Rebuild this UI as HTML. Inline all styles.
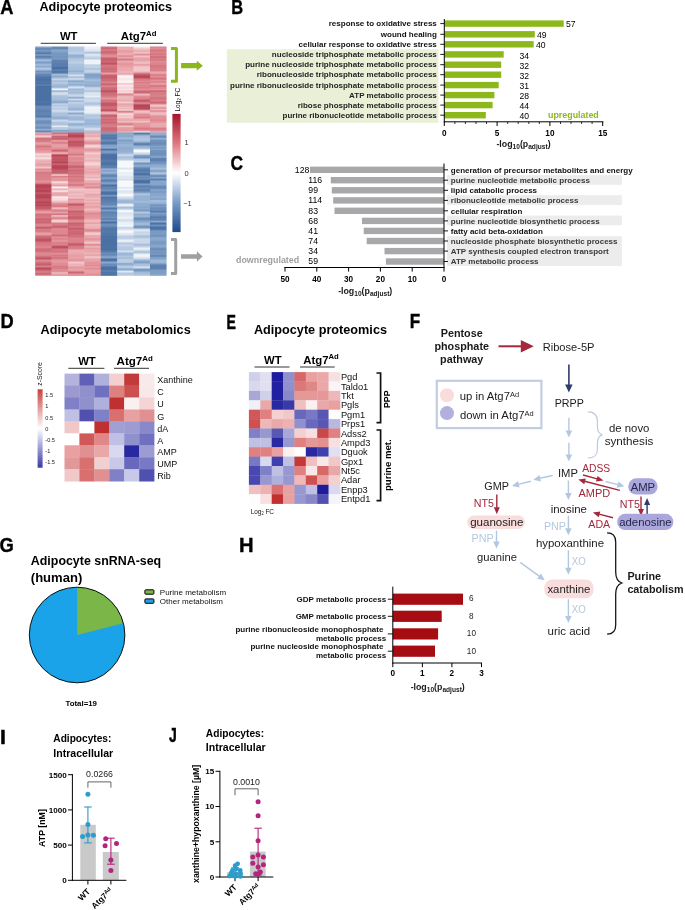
<!DOCTYPE html>
<html><head><meta charset="utf-8"><title>Figure</title>
<style>
html,body{margin:0;padding:0;background:#fff}
svg{display:block;font-family:'Liberation Sans', Arial, sans-serif}
.hm rect{width:16.5px;height:1.05px}
</style></head><body>
<svg width="685" height="910" viewBox="0 0 685 910">
<rect width="685" height="910" fill="#fff"/>
<g class="hm">
<g transform="translate(35.20 0)">
<rect y="46.60" fill="#5b83b5"/>
<rect y="47.60" fill="#648abb"/>
<rect y="48.60" fill="#1c4c8c"/>
<rect y="49.60" fill="#6087b9"/>
<rect y="50.60" fill="#4c76ab"/>
<rect y="51.60" fill="#4973a9"/>
<rect y="52.60" fill="#295794"/>
<rect y="53.60" fill="#2b5996"/>
<rect y="54.60" fill="#789cc8"/>
<rect y="55.60" fill="#2b5996"/>
<rect y="56.60" fill="#3b67a0"/>
<rect y="57.60" fill="#37649e"/>
<rect y="58.60" fill="#7196c4"/>
<rect y="59.60" fill="#81a3cc"/>
<rect y="60.60" fill="#8eacd1"/>
<rect y="61.60" fill="#567fb2"/>
<rect y="62.60" fill="#5e85b7"/>
<rect y="63.60" fill="#7c9fc9"/>
<rect y="64.60" fill="#8dabd1"/>
<rect y="65.60" fill="#779bc8"/>
<rect y="66.60" fill="#6188b9"/>
<rect y="67.60" fill="#a5bdda"/>
<rect y="68.60" fill="#9ab5d6"/>
<rect y="69.60" fill="#86a6ce"/>
<rect y="70.60" fill="#577fb2"/>
<rect y="71.60" fill="#446fa6"/>
<rect y="72.60" fill="#6f94c2"/>
<rect y="73.60" fill="#39659f"/>
<rect y="74.60" fill="#3b67a0"/>
<rect y="75.60" fill="#35629c"/>
<rect y="76.60" fill="#204f8f"/>
<rect y="77.60" fill="#255492"/>
<rect y="78.60" fill="#1c4c8c"/>
<rect y="79.60" fill="#1c4c8c"/>
<rect y="80.60" fill="#1e4e8d"/>
<rect y="81.60" fill="#2a5895"/>
<rect y="82.60" fill="#1e4e8d"/>
<rect y="83.60" fill="#1c4c8c"/>
<rect y="84.60" fill="#406ca4"/>
<rect y="85.60" fill="#1c4c8c"/>
<rect y="86.60" fill="#1c4c8c"/>
<rect y="87.60" fill="#1c4c8c"/>
<rect y="88.60" fill="#1c4c8c"/>
<rect y="89.60" fill="#1c4c8c"/>
<rect y="90.60" fill="#1c4c8c"/>
<rect y="91.60" fill="#1c4c8c"/>
<rect y="92.60" fill="#1c4c8c"/>
<rect y="93.60" fill="#1c4c8c"/>
<rect y="94.60" fill="#1c4c8c"/>
<rect y="95.60" fill="#1c4c8c"/>
<rect y="96.60" fill="#1c4c8c"/>
<rect y="97.60" fill="#1c4c8c"/>
<rect y="98.60" fill="#1c4c8c"/>
<rect y="99.60" fill="#1c4c8c"/>
<rect y="100.60" fill="#1c4c8c"/>
<rect y="101.60" fill="#275693"/>
<rect y="102.60" fill="#1c4c8c"/>
<rect y="103.60" fill="#1c4c8c"/>
<rect y="104.60" fill="#1c4c8c"/>
<rect y="105.60" fill="#3e6aa2"/>
<rect y="106.60" fill="#436ea6"/>
<rect y="107.60" fill="#4771a8"/>
<rect y="108.60" fill="#38649e"/>
<rect y="109.60" fill="#3e6aa2"/>
<rect y="110.60" fill="#2e5c98"/>
<rect y="111.60" fill="#35619c"/>
<rect y="112.60" fill="#3a66a0"/>
<rect y="113.60" fill="#3b67a0"/>
<rect y="114.60" fill="#3b67a0"/>
<rect y="115.60" fill="#2a5895"/>
<rect y="116.60" fill="#2f5c98"/>
<rect y="117.60" fill="#6188b9"/>
<rect y="118.60" fill="#6b91c0"/>
<rect y="119.60" fill="#648bbb"/>
<rect y="120.60" fill="#426da5"/>
<rect y="121.60" fill="#4d77ac"/>
<rect y="122.60" fill="#416ca4"/>
<rect y="123.60" fill="#5981b4"/>
<rect y="124.60" fill="#5e86b7"/>
<rect y="125.60" fill="#678dbd"/>
<rect y="126.60" fill="#436ea5"/>
<rect y="127.60" fill="#4f79ad"/>
<rect y="128.60" fill="#5880b3"/>
<rect y="129.60" fill="#8eacd1"/>
<rect y="130.60" fill="#2e5b98"/>
<rect y="131.60" fill="#446ea6"/>
<rect y="132.60" fill="#ebaeb2"/>
<rect y="133.60" fill="#d2646e"/>
<rect y="134.60" fill="#e49097"/>
<rect y="135.60" fill="#edb6ba"/>
<rect y="136.60" fill="#f1c4c7"/>
<rect y="137.60" fill="#c64f5c"/>
<rect y="138.60" fill="#c44a59"/>
<rect y="139.60" fill="#ca5562"/>
<rect y="140.60" fill="#cd5b67"/>
<rect y="141.60" fill="#cd5b67"/>
<rect y="142.60" fill="#e6979d"/>
<rect y="143.60" fill="#da727a"/>
<rect y="144.60" fill="#df7d84"/>
<rect y="145.60" fill="#c95461"/>
<rect y="146.60" fill="#c8525f"/>
<rect y="147.60" fill="#dc747d"/>
<rect y="148.60" fill="#d86d76"/>
<rect y="149.60" fill="#d66a74"/>
<rect y="150.60" fill="#e2878e"/>
<rect y="151.60" fill="#df7c84"/>
<rect y="152.60" fill="#e79fa4"/>
<rect y="153.60" fill="#f4d4d7"/>
<rect y="154.60" fill="#f0c0c4"/>
<rect y="155.60" fill="#efbec2"/>
<rect y="156.60" fill="#eaaaaf"/>
<rect y="157.60" fill="#fcf1f2"/>
<rect y="158.60" fill="#ecb1b6"/>
<rect y="159.60" fill="#edb6bb"/>
<rect y="160.60" fill="#e38d93"/>
<rect y="161.60" fill="#e79ba1"/>
<rect y="162.60" fill="#e9a5aa"/>
<rect y="163.60" fill="#dd767f"/>
<rect y="164.60" fill="#e5949b"/>
<rect y="165.60" fill="#e08188"/>
<rect y="166.60" fill="#eeb9bd"/>
<rect y="167.60" fill="#edb3b8"/>
<rect y="168.60" fill="#da717a"/>
<rect y="169.60" fill="#d46671"/>
<rect y="170.60" fill="#e6989e"/>
<rect y="171.60" fill="#c7505d"/>
<rect y="172.60" fill="#cd5a67"/>
<rect y="173.60" fill="#cf5d69"/>
<rect y="174.60" fill="#d0606b"/>
<rect y="175.60" fill="#d0606b"/>
<rect y="176.60" fill="#d0606c"/>
<rect y="177.60" fill="#d3646f"/>
<rect y="178.60" fill="#d2626d"/>
<rect y="179.60" fill="#cf5d69"/>
<rect y="180.60" fill="#e08088"/>
<rect y="181.60" fill="#d76c76"/>
<rect y="182.60" fill="#d66a74"/>
<rect y="183.60" fill="#ba3a4a"/>
<rect y="184.60" fill="#a6162b"/>
<rect y="185.60" fill="#a5142a"/>
<rect y="186.60" fill="#a5142a"/>
<rect y="187.60" fill="#a5142a"/>
<rect y="188.60" fill="#b1293c"/>
<rect y="189.60" fill="#a5142a"/>
<rect y="190.60" fill="#a5142a"/>
<rect y="191.60" fill="#a5142a"/>
<rect y="192.60" fill="#bc3d4d"/>
<rect y="193.60" fill="#ad2136"/>
<rect y="194.60" fill="#a5142a"/>
<rect y="195.60" fill="#a5142a"/>
<rect y="196.60" fill="#a5142a"/>
<rect y="197.60" fill="#a5142a"/>
<rect y="198.60" fill="#b53042"/>
<rect y="199.60" fill="#b0283b"/>
<rect y="200.60" fill="#b32c3f"/>
<rect y="201.60" fill="#a5142a"/>
<rect y="202.60" fill="#a5142a"/>
<rect y="203.60" fill="#b0283b"/>
<rect y="204.60" fill="#a5142a"/>
<rect y="205.60" fill="#a91b30"/>
<rect y="206.60" fill="#be4150"/>
<rect y="207.60" fill="#ab1e33"/>
<rect y="208.60" fill="#c24756"/>
<rect y="209.60" fill="#c8515f"/>
<rect y="210.60" fill="#db737c"/>
<rect y="211.60" fill="#e28990"/>
<rect y="212.60" fill="#e1838a"/>
<rect y="213.60" fill="#c8515e"/>
<rect y="214.60" fill="#c44b59"/>
<rect y="215.60" fill="#ca5562"/>
<rect y="216.60" fill="#ca5461"/>
<rect y="217.60" fill="#ce5c68"/>
<rect y="218.60" fill="#b73345"/>
<rect y="219.60" fill="#bf4252"/>
<rect y="220.60" fill="#c34857"/>
<rect y="221.60" fill="#bf4252"/>
<rect y="222.60" fill="#b83546"/>
<rect y="223.60" fill="#db737c"/>
<rect y="224.60" fill="#cc5865"/>
<rect y="225.60" fill="#dc747d"/>
<rect y="226.60" fill="#bb3b4c"/>
<rect y="227.60" fill="#b0273a"/>
<rect y="228.60" fill="#ce5c68"/>
<rect y="229.60" fill="#cd5a66"/>
<rect y="230.60" fill="#c95461"/>
<rect y="231.60" fill="#cf5d69"/>
<rect y="232.60" fill="#e28a91"/>
<rect y="233.60" fill="#df7d85"/>
<rect y="234.60" fill="#e1848b"/>
<rect y="235.60" fill="#c14554"/>
<rect y="236.60" fill="#bf4251"/>
<rect y="237.60" fill="#bf4252"/>
<rect y="238.60" fill="#b0263a"/>
<rect y="239.60" fill="#b0273a"/>
<rect y="240.60" fill="#ae2438"/>
<rect y="241.60" fill="#c54b5a"/>
<rect y="242.60" fill="#cc5864"/>
<rect y="243.60" fill="#c8515e"/>
<rect y="244.60" fill="#cf5f6a"/>
<rect y="245.60" fill="#cc5864"/>
<rect y="246.60" fill="#d96f78"/>
<rect y="247.60" fill="#d05f6a"/>
<rect y="248.60" fill="#c04453"/>
<rect y="249.60" fill="#c24856"/>
<rect y="250.60" fill="#c14655"/>
<rect y="251.60" fill="#c95360"/>
<rect y="252.60" fill="#d86e77"/>
<rect y="253.60" fill="#d56973"/>
<rect y="254.60" fill="#d36570"/>
<rect y="255.60" fill="#d1626d"/>
<rect y="256.60" fill="#ba3949"/>
<rect y="257.60" fill="#bc3c4d"/>
<rect y="258.60" fill="#a7172d"/>
<rect y="259.60" fill="#de7880"/>
<rect y="260.60" fill="#d1626d"/>
<rect y="261.60" fill="#cd5a66"/>
<rect y="262.60" fill="#c14554"/>
<rect y="263.60" fill="#bd3d4e"/>
<rect y="264.60" fill="#b53143"/>
<rect y="265.60" fill="#d0606c"/>
<rect y="266.60" fill="#d1606c"/>
<rect y="267.60" fill="#a8182e"/>
<rect y="268.60" fill="#b0273a"/>
<rect y="269.60" fill="#b63143"/>
<rect y="270.60" fill="#cb5764"/>
<rect y="271.60" fill="#cd5b67"/>
<rect y="272.60" fill="#c95461"/>
<rect y="273.60" fill="#b73446"/>
<rect y="274.60" fill="#d36670"/>
</g>
<g transform="translate(51.60 0)">
<rect y="46.60" fill="#436ea5"/>
<rect y="47.60" fill="#3d69a2"/>
<rect y="48.60" fill="#3c67a1"/>
<rect y="49.60" fill="#7196c3"/>
<rect y="50.60" fill="#668dbc"/>
<rect y="51.60" fill="#6087b8"/>
<rect y="52.60" fill="#5981b3"/>
<rect y="53.60" fill="#4e78ad"/>
<rect y="54.60" fill="#4f78ad"/>
<rect y="55.60" fill="#6087b8"/>
<rect y="56.60" fill="#426da5"/>
<rect y="57.60" fill="#577fb2"/>
<rect y="58.60" fill="#5b82b5"/>
<rect y="59.60" fill="#3f6aa3"/>
<rect y="60.60" fill="#2e5b97"/>
<rect y="61.60" fill="#38659e"/>
<rect y="62.60" fill="#305d99"/>
<rect y="63.60" fill="#2f5c98"/>
<rect y="64.60" fill="#2b5996"/>
<rect y="65.60" fill="#39659f"/>
<rect y="66.60" fill="#1c4c8c"/>
<rect y="67.60" fill="#1c4c8c"/>
<rect y="68.60" fill="#1c4c8c"/>
<rect y="69.60" fill="#3e69a2"/>
<rect y="70.60" fill="#295895"/>
<rect y="71.60" fill="#1c4c8c"/>
<rect y="72.60" fill="#315e99"/>
<rect y="73.60" fill="#6f94c2"/>
<rect y="74.60" fill="#a9c0dc"/>
<rect y="75.60" fill="#5a82b4"/>
<rect y="76.60" fill="#7da0ca"/>
<rect y="77.60" fill="#8fadd1"/>
<rect y="78.60" fill="#abc1dd"/>
<rect y="79.60" fill="#c4d4e7"/>
<rect y="80.60" fill="#7397c4"/>
<rect y="81.60" fill="#a9c0dc"/>
<rect y="82.60" fill="#a8bfdb"/>
<rect y="83.60" fill="#8fadd1"/>
<rect y="84.60" fill="#94b1d3"/>
<rect y="85.60" fill="#779cc8"/>
<rect y="86.60" fill="#88a8cf"/>
<rect y="87.60" fill="#9bb5d6"/>
<rect y="88.60" fill="#f3f7fa"/>
<rect y="89.60" fill="#e5ecf5"/>
<rect y="90.60" fill="#5d84b6"/>
<rect y="91.60" fill="#bdcee4"/>
<rect y="92.60" fill="#b3c8e0"/>
<rect y="93.60" fill="#dce5f1"/>
<rect y="94.60" fill="#a4bcda"/>
<rect y="95.60" fill="#9eb8d8"/>
<rect y="96.60" fill="#8fadd1"/>
<rect y="97.60" fill="#94b1d3"/>
<rect y="98.60" fill="#92afd3"/>
<rect y="99.60" fill="#89a8cf"/>
<rect y="100.60" fill="#7da0ca"/>
<rect y="101.60" fill="#6a90bf"/>
<rect y="102.60" fill="#6f94c2"/>
<rect y="103.60" fill="#c6d5e8"/>
<rect y="104.60" fill="#9ab5d6"/>
<rect y="105.60" fill="#a3bbd9"/>
<rect y="106.60" fill="#b4c8e0"/>
<rect y="107.60" fill="#b4c8e0"/>
<rect y="108.60" fill="#a0bad8"/>
<rect y="109.60" fill="#c0d1e5"/>
<rect y="110.60" fill="#bdcfe4"/>
<rect y="111.60" fill="#bbcde3"/>
<rect y="112.60" fill="#94b0d3"/>
<rect y="113.60" fill="#95b1d4"/>
<rect y="114.60" fill="#9ab5d6"/>
<rect y="115.60" fill="#8fadd1"/>
<rect y="116.60" fill="#7fa1cb"/>
<rect y="117.60" fill="#769bc7"/>
<rect y="118.60" fill="#7498c5"/>
<rect y="119.60" fill="#bdcee4"/>
<rect y="120.60" fill="#bbcde3"/>
<rect y="121.60" fill="#a5bdda"/>
<rect y="122.60" fill="#98b3d5"/>
<rect y="123.60" fill="#99b4d6"/>
<rect y="124.60" fill="#9cb6d7"/>
<rect y="125.60" fill="#d8e2ef"/>
<rect y="126.60" fill="#e6edf5"/>
<rect y="127.60" fill="#7397c5"/>
<rect y="128.60" fill="#d5e0ee"/>
<rect y="129.60" fill="#678dbd"/>
<rect y="130.60" fill="#688fbe"/>
<rect y="131.60" fill="#7fa1cb"/>
<rect y="132.60" fill="#c44b59"/>
<rect y="133.60" fill="#c8525f"/>
<rect y="134.60" fill="#e89fa5"/>
<rect y="135.60" fill="#be4050"/>
<rect y="136.60" fill="#b83647"/>
<rect y="137.60" fill="#c8515e"/>
<rect y="138.60" fill="#ab1e33"/>
<rect y="139.60" fill="#db727b"/>
<rect y="140.60" fill="#e1848b"/>
<rect y="141.60" fill="#da717a"/>
<rect y="142.60" fill="#c54c5a"/>
<rect y="143.60" fill="#e08189"/>
<rect y="144.60" fill="#e0828a"/>
<rect y="145.60" fill="#e1868d"/>
<rect y="146.60" fill="#e2888f"/>
<rect y="147.60" fill="#db727b"/>
<rect y="148.60" fill="#dc757d"/>
<rect y="149.60" fill="#bf4251"/>
<rect y="150.60" fill="#bd3e4e"/>
<rect y="151.60" fill="#d86e77"/>
<rect y="152.60" fill="#eaa7ac"/>
<rect y="153.60" fill="#dc757e"/>
<rect y="154.60" fill="#a5142a"/>
<rect y="155.60" fill="#a5142a"/>
<rect y="156.60" fill="#b42f41"/>
<rect y="157.60" fill="#b32d3f"/>
<rect y="158.60" fill="#b1283b"/>
<rect y="159.60" fill="#ae2437"/>
<rect y="160.60" fill="#b53042"/>
<rect y="161.60" fill="#a5142a"/>
<rect y="162.60" fill="#a6152b"/>
<rect y="163.60" fill="#c54d5b"/>
<rect y="164.60" fill="#af2539"/>
<rect y="165.60" fill="#a5142a"/>
<rect y="166.60" fill="#a5142a"/>
<rect y="167.60" fill="#a5142a"/>
<rect y="168.60" fill="#ab1e33"/>
<rect y="169.60" fill="#b0273a"/>
<rect y="170.60" fill="#c54c5a"/>
<rect y="171.60" fill="#a5142a"/>
<rect y="172.60" fill="#cc5864"/>
<rect y="173.60" fill="#c04352"/>
<rect y="174.60" fill="#fcf4f5"/>
<rect y="175.60" fill="#ce5c68"/>
<rect y="176.60" fill="#d05f6b"/>
<rect y="177.60" fill="#e2878e"/>
<rect y="178.60" fill="#dd767e"/>
<rect y="179.60" fill="#e1838b"/>
<rect y="180.60" fill="#df7d85"/>
<rect y="181.60" fill="#fcf4f5"/>
<rect y="182.60" fill="#eaa9ae"/>
<rect y="183.60" fill="#ecb2b6"/>
<rect y="184.60" fill="#e0828a"/>
<rect y="185.60" fill="#e2878e"/>
<rect y="186.60" fill="#fcf4f5"/>
<rect y="187.60" fill="#f7dee0"/>
<rect y="188.60" fill="#e8a2a7"/>
<rect y="189.60" fill="#e8a0a6"/>
<rect y="190.60" fill="#fcf4f5"/>
<rect y="191.60" fill="#ecb1b6"/>
<rect y="192.60" fill="#e49298"/>
<rect y="193.60" fill="#e38c92"/>
<rect y="194.60" fill="#e49198"/>
<rect y="195.60" fill="#e79ba1"/>
<rect y="196.60" fill="#fcf4f5"/>
<rect y="197.60" fill="#f5d5d8"/>
<rect y="198.60" fill="#f6dadc"/>
<rect y="199.60" fill="#f5d5d8"/>
<rect y="200.60" fill="#edb6bb"/>
<rect y="201.60" fill="#eaa8ad"/>
<rect y="202.60" fill="#e2888f"/>
<rect y="203.60" fill="#d3646f"/>
<rect y="204.60" fill="#d46772"/>
<rect y="205.60" fill="#ca5562"/>
<rect y="206.60" fill="#cf5e6a"/>
<rect y="207.60" fill="#f0c1c5"/>
<rect y="208.60" fill="#e5939a"/>
<rect y="209.60" fill="#d2636e"/>
<rect y="210.60" fill="#d3646f"/>
<rect y="211.60" fill="#da717a"/>
<rect y="212.60" fill="#e8a2a7"/>
<rect y="213.60" fill="#b83647"/>
<rect y="214.60" fill="#da717a"/>
<rect y="215.60" fill="#f4d1d3"/>
<rect y="216.60" fill="#d56872"/>
<rect y="217.60" fill="#dc747d"/>
<rect y="218.60" fill="#d2626d"/>
<rect y="219.60" fill="#efbdc1"/>
<rect y="220.60" fill="#f2c9cc"/>
<rect y="221.60" fill="#efbfc2"/>
<rect y="222.60" fill="#d05f6b"/>
<rect y="223.60" fill="#c8515e"/>
<rect y="224.60" fill="#d2646e"/>
<rect y="225.60" fill="#bc3d4d"/>
<rect y="226.60" fill="#bb3b4c"/>
<rect y="227.60" fill="#c54d5b"/>
<rect y="228.60" fill="#df7b82"/>
<rect y="229.60" fill="#d1626d"/>
<rect y="230.60" fill="#d76b75"/>
<rect y="231.60" fill="#d36670"/>
<rect y="232.60" fill="#d46772"/>
<rect y="233.60" fill="#d76d76"/>
<rect y="234.60" fill="#c34958"/>
<rect y="235.60" fill="#c04353"/>
<rect y="236.60" fill="#e08189"/>
<rect y="237.60" fill="#d36570"/>
<rect y="238.60" fill="#d56872"/>
<rect y="239.60" fill="#d86d76"/>
<rect y="240.60" fill="#e1858c"/>
<rect y="241.60" fill="#d46671"/>
<rect y="242.60" fill="#cc5965"/>
<rect y="243.60" fill="#d2636e"/>
<rect y="244.60" fill="#d1626d"/>
<rect y="245.60" fill="#b93849"/>
<rect y="246.60" fill="#a5142a"/>
<rect y="247.60" fill="#b53042"/>
<rect y="248.60" fill="#c54c5a"/>
<rect y="249.60" fill="#cb5764"/>
<rect y="250.60" fill="#c8515f"/>
<rect y="251.60" fill="#c95360"/>
<rect y="252.60" fill="#ce5b67"/>
<rect y="253.60" fill="#e28990"/>
<rect y="254.60" fill="#c04453"/>
<rect y="255.60" fill="#d3646f"/>
<rect y="256.60" fill="#cd5b67"/>
<rect y="257.60" fill="#be3f4f"/>
<rect y="258.60" fill="#d76b75"/>
<rect y="259.60" fill="#d96f78"/>
<rect y="260.60" fill="#e1838a"/>
<rect y="261.60" fill="#e07f87"/>
<rect y="262.60" fill="#d96f78"/>
<rect y="263.60" fill="#da717a"/>
<rect y="264.60" fill="#d76c75"/>
<rect y="265.60" fill="#d56973"/>
<rect y="266.60" fill="#c34857"/>
<rect y="267.60" fill="#da7079"/>
<rect y="268.60" fill="#c14655"/>
<rect y="269.60" fill="#e5949a"/>
<rect y="270.60" fill="#c34957"/>
<rect y="271.60" fill="#e79ea4"/>
<rect y="272.60" fill="#e69aa0"/>
<rect y="273.60" fill="#e8a0a5"/>
<rect y="274.60" fill="#d76c76"/>
</g>
<g transform="translate(68.00 0)">
<rect y="46.60" fill="#a1bad9"/>
<rect y="47.60" fill="#a9c0dc"/>
<rect y="48.60" fill="#93b0d3"/>
<rect y="49.60" fill="#aac0dc"/>
<rect y="50.60" fill="#a1bad9"/>
<rect y="51.60" fill="#a5bdda"/>
<rect y="52.60" fill="#b5c9e1"/>
<rect y="53.60" fill="#a5bdda"/>
<rect y="54.60" fill="#7c9fca"/>
<rect y="55.60" fill="#7297c4"/>
<rect y="56.60" fill="#7da0ca"/>
<rect y="57.60" fill="#87a7ce"/>
<rect y="58.60" fill="#9cb6d6"/>
<rect y="59.60" fill="#9cb6d7"/>
<rect y="60.60" fill="#a6bedb"/>
<rect y="61.60" fill="#a8bfdb"/>
<rect y="62.60" fill="#b0c5df"/>
<rect y="63.60" fill="#9cb6d7"/>
<rect y="64.60" fill="#93b0d3"/>
<rect y="65.60" fill="#9db7d7"/>
<rect y="66.60" fill="#8fadd1"/>
<rect y="67.60" fill="#91aed2"/>
<rect y="68.60" fill="#91aed2"/>
<rect y="69.60" fill="#8cabd0"/>
<rect y="70.60" fill="#7499c6"/>
<rect y="71.60" fill="#7ea1cb"/>
<rect y="72.60" fill="#97b3d5"/>
<rect y="73.60" fill="#8cabd0"/>
<rect y="74.60" fill="#c7d6e8"/>
<rect y="75.60" fill="#ccdaea"/>
<rect y="76.60" fill="#7b9fc9"/>
<rect y="77.60" fill="#b0c5df"/>
<rect y="78.60" fill="#c1d2e6"/>
<rect y="79.60" fill="#aac1dc"/>
<rect y="80.60" fill="#6389ba"/>
<rect y="81.60" fill="#7398c5"/>
<rect y="82.60" fill="#94b0d3"/>
<rect y="83.60" fill="#7b9ec9"/>
<rect y="84.60" fill="#7297c4"/>
<rect y="85.60" fill="#95b1d4"/>
<rect y="86.60" fill="#cbd9ea"/>
<rect y="87.60" fill="#cedbeb"/>
<rect y="88.60" fill="#82a3cc"/>
<rect y="89.60" fill="#87a7ce"/>
<rect y="90.60" fill="#9cb6d7"/>
<rect y="91.60" fill="#8baad0"/>
<rect y="92.60" fill="#8dabd0"/>
<rect y="93.60" fill="#9eb8d8"/>
<rect y="94.60" fill="#b8cbe2"/>
<rect y="95.60" fill="#bfd0e5"/>
<rect y="96.60" fill="#91aed2"/>
<rect y="97.60" fill="#5e85b7"/>
<rect y="98.60" fill="#c0d1e5"/>
<rect y="99.60" fill="#c5d4e7"/>
<rect y="100.60" fill="#6f94c2"/>
<rect y="101.60" fill="#abc1dd"/>
<rect y="102.60" fill="#b4c8e0"/>
<rect y="103.60" fill="#a3bbd9"/>
<rect y="104.60" fill="#9bb6d6"/>
<rect y="105.60" fill="#96b2d4"/>
<rect y="106.60" fill="#99b4d5"/>
<rect y="107.60" fill="#8aa9cf"/>
<rect y="108.60" fill="#7ea1cb"/>
<rect y="109.60" fill="#789cc8"/>
<rect y="110.60" fill="#c2d3e6"/>
<rect y="111.60" fill="#c0d1e5"/>
<rect y="112.60" fill="#7095c3"/>
<rect y="113.60" fill="#6a90bf"/>
<rect y="114.60" fill="#aac1dc"/>
<rect y="115.60" fill="#9cb7d7"/>
<rect y="116.60" fill="#88a8cf"/>
<rect y="117.60" fill="#7a9ec9"/>
<rect y="118.60" fill="#93b0d3"/>
<rect y="119.60" fill="#779bc7"/>
<rect y="120.60" fill="#bfd0e5"/>
<rect y="121.60" fill="#b5c9e1"/>
<rect y="122.60" fill="#a1bad9"/>
<rect y="123.60" fill="#7499c5"/>
<rect y="124.60" fill="#7498c5"/>
<rect y="125.60" fill="#9fb9d8"/>
<rect y="126.60" fill="#a4bcda"/>
<rect y="127.60" fill="#b3c7e0"/>
<rect y="128.60" fill="#83a4cd"/>
<rect y="129.60" fill="#87a7ce"/>
<rect y="130.60" fill="#698fbe"/>
<rect y="131.60" fill="#7fa1cb"/>
<rect y="132.60" fill="#b52f41"/>
<rect y="133.60" fill="#bb3b4c"/>
<rect y="134.60" fill="#a5142a"/>
<rect y="135.60" fill="#a5142a"/>
<rect y="136.60" fill="#a5142a"/>
<rect y="137.60" fill="#c34958"/>
<rect y="138.60" fill="#c14655"/>
<rect y="139.60" fill="#c64d5b"/>
<rect y="140.60" fill="#b83546"/>
<rect y="141.60" fill="#a91c30"/>
<rect y="142.60" fill="#b53042"/>
<rect y="143.60" fill="#b32d3f"/>
<rect y="144.60" fill="#b32d3f"/>
<rect y="145.60" fill="#b73445"/>
<rect y="146.60" fill="#c95360"/>
<rect y="147.60" fill="#d56872"/>
<rect y="148.60" fill="#d86d77"/>
<rect y="149.60" fill="#de7880"/>
<rect y="150.60" fill="#df7d85"/>
<rect y="151.60" fill="#d96f79"/>
<rect y="152.60" fill="#dd757e"/>
<rect y="153.60" fill="#cd5a66"/>
<rect y="154.60" fill="#c95260"/>
<rect y="155.60" fill="#e1838a"/>
<rect y="156.60" fill="#e1838a"/>
<rect y="157.60" fill="#d2636e"/>
<rect y="158.60" fill="#da727b"/>
<rect y="159.60" fill="#d66a74"/>
<rect y="160.60" fill="#de7880"/>
<rect y="161.60" fill="#d1616c"/>
<rect y="162.60" fill="#ce5c68"/>
<rect y="163.60" fill="#d56872"/>
<rect y="164.60" fill="#d0606c"/>
<rect y="165.60" fill="#bd3e4e"/>
<rect y="166.60" fill="#b93849"/>
<rect y="167.60" fill="#c34857"/>
<rect y="168.60" fill="#d2636e"/>
<rect y="169.60" fill="#be3f4f"/>
<rect y="170.60" fill="#c24655"/>
<rect y="171.60" fill="#c64e5c"/>
<rect y="172.60" fill="#c64f5d"/>
<rect y="173.60" fill="#c24756"/>
<rect y="174.60" fill="#d56872"/>
<rect y="175.60" fill="#cb5764"/>
<rect y="176.60" fill="#c04453"/>
<rect y="177.60" fill="#d66a74"/>
<rect y="178.60" fill="#ce5c68"/>
<rect y="179.60" fill="#c8515f"/>
<rect y="180.60" fill="#d36570"/>
<rect y="181.60" fill="#d2636e"/>
<rect y="182.60" fill="#dc747d"/>
<rect y="183.60" fill="#d76c76"/>
<rect y="184.60" fill="#c04453"/>
<rect y="185.60" fill="#d86e77"/>
<rect y="186.60" fill="#e49298"/>
<rect y="187.60" fill="#e2888f"/>
<rect y="188.60" fill="#f1c4c8"/>
<rect y="189.60" fill="#ecafb4"/>
<rect y="190.60" fill="#ecb0b4"/>
<rect y="191.60" fill="#e79ea4"/>
<rect y="192.60" fill="#e79ca2"/>
<rect y="193.60" fill="#edb4b9"/>
<rect y="194.60" fill="#ebacb1"/>
<rect y="195.60" fill="#e79ba1"/>
<rect y="196.60" fill="#e9a4aa"/>
<rect y="197.60" fill="#efbdc1"/>
<rect y="198.60" fill="#df7a82"/>
<rect y="199.60" fill="#db737b"/>
<rect y="200.60" fill="#e6989e"/>
<rect y="201.60" fill="#df7c84"/>
<rect y="202.60" fill="#df7c84"/>
<rect y="203.60" fill="#b63244"/>
<rect y="204.60" fill="#b22b3d"/>
<rect y="205.60" fill="#cc5965"/>
<rect y="206.60" fill="#d3656f"/>
<rect y="207.60" fill="#ce5c68"/>
<rect y="208.60" fill="#d66a74"/>
<rect y="209.60" fill="#d3656f"/>
<rect y="210.60" fill="#bd3f4f"/>
<rect y="211.60" fill="#b53042"/>
<rect y="212.60" fill="#c74f5d"/>
<rect y="213.60" fill="#bd3d4e"/>
<rect y="214.60" fill="#c54c5a"/>
<rect y="215.60" fill="#c44a59"/>
<rect y="216.60" fill="#b53143"/>
<rect y="217.60" fill="#bb3a4b"/>
<rect y="218.60" fill="#b83647"/>
<rect y="219.60" fill="#d76b75"/>
<rect y="220.60" fill="#d2636e"/>
<rect y="221.60" fill="#d56973"/>
<rect y="222.60" fill="#bf4151"/>
<rect y="223.60" fill="#b63143"/>
<rect y="224.60" fill="#c95360"/>
<rect y="225.60" fill="#b93748"/>
<rect y="226.60" fill="#d3656f"/>
<rect y="227.60" fill="#b83647"/>
<rect y="228.60" fill="#b63143"/>
<rect y="229.60" fill="#c34857"/>
<rect y="230.60" fill="#c24756"/>
<rect y="231.60" fill="#be4050"/>
<rect y="232.60" fill="#bf4251"/>
<rect y="233.60" fill="#ba394a"/>
<rect y="234.60" fill="#c64d5b"/>
<rect y="235.60" fill="#c64e5c"/>
<rect y="236.60" fill="#c64e5c"/>
<rect y="237.60" fill="#d1616c"/>
<rect y="238.60" fill="#d56973"/>
<rect y="239.60" fill="#cf5e69"/>
<rect y="240.60" fill="#d1626d"/>
<rect y="241.60" fill="#cf5d69"/>
<rect y="242.60" fill="#cc5865"/>
<rect y="243.60" fill="#b32c3f"/>
<rect y="244.60" fill="#b53042"/>
<rect y="245.60" fill="#c95360"/>
<rect y="246.60" fill="#cb5663"/>
<rect y="247.60" fill="#d0606b"/>
<rect y="248.60" fill="#d05f6b"/>
<rect y="249.60" fill="#e79da3"/>
<rect y="250.60" fill="#e49399"/>
<rect y="251.60" fill="#e79ea3"/>
<rect y="252.60" fill="#e38e95"/>
<rect y="253.60" fill="#e59399"/>
<rect y="254.60" fill="#e2888f"/>
<rect y="255.60" fill="#e1858c"/>
<rect y="256.60" fill="#e28990"/>
<rect y="257.60" fill="#e38c93"/>
<rect y="258.60" fill="#e08088"/>
<rect y="259.60" fill="#df7c84"/>
<rect y="260.60" fill="#dd767e"/>
<rect y="261.60" fill="#efbcc0"/>
<rect y="262.60" fill="#efbcc0"/>
<rect y="263.60" fill="#e79da3"/>
<rect y="264.60" fill="#e8a1a6"/>
<rect y="265.60" fill="#e9a4a9"/>
<rect y="266.60" fill="#dc757d"/>
<rect y="267.60" fill="#e08289"/>
<rect y="268.60" fill="#e2888f"/>
<rect y="269.60" fill="#e38b92"/>
<rect y="270.60" fill="#e1838a"/>
<rect y="271.60" fill="#c04352"/>
<rect y="272.60" fill="#bb3b4c"/>
<rect y="273.60" fill="#e1828a"/>
<rect y="274.60" fill="#d36570"/>
</g>
<g transform="translate(84.40 0)">
<rect y="46.60" fill="#e3eaf3"/>
<rect y="47.60" fill="#f1f5f9"/>
<rect y="48.60" fill="#dae4f0"/>
<rect y="49.60" fill="#d5e0ee"/>
<rect y="50.60" fill="#dbe5f0"/>
<rect y="51.60" fill="#9cb6d7"/>
<rect y="52.60" fill="#99b4d6"/>
<rect y="53.60" fill="#c5d4e7"/>
<rect y="54.60" fill="#dfe7f2"/>
<rect y="55.60" fill="#c4d4e7"/>
<rect y="56.60" fill="#b9cce2"/>
<rect y="57.60" fill="#aec3de"/>
<rect y="58.60" fill="#a3bcda"/>
<rect y="59.60" fill="#f0f4f9"/>
<rect y="60.60" fill="#ebf0f7"/>
<rect y="61.60" fill="#ecf1f7"/>
<rect y="62.60" fill="#eaf0f6"/>
<rect y="63.60" fill="#eff3f8"/>
<rect y="64.60" fill="#9cb7d7"/>
<rect y="65.60" fill="#b7cae2"/>
<rect y="66.60" fill="#b5c9e1"/>
<rect y="67.60" fill="#abc1dd"/>
<rect y="68.60" fill="#89a8cf"/>
<rect y="69.60" fill="#b5c8e1"/>
<rect y="70.60" fill="#b2c7e0"/>
<rect y="71.60" fill="#bacce3"/>
<rect y="72.60" fill="#92afd3"/>
<rect y="73.60" fill="#678dbd"/>
<rect y="74.60" fill="#5f86b8"/>
<rect y="75.60" fill="#6188b9"/>
<rect y="76.60" fill="#698fbe"/>
<rect y="77.60" fill="#668dbc"/>
<rect y="78.60" fill="#81a2cb"/>
<rect y="79.60" fill="#8cabd0"/>
<rect y="80.60" fill="#8dabd0"/>
<rect y="81.60" fill="#7d9fca"/>
<rect y="82.60" fill="#789cc8"/>
<rect y="83.60" fill="#82a3cc"/>
<rect y="84.60" fill="#759ac6"/>
<rect y="85.60" fill="#658bbc"/>
<rect y="86.60" fill="#aac1dc"/>
<rect y="87.60" fill="#a4bcda"/>
<rect y="88.60" fill="#c9d7e9"/>
<rect y="89.60" fill="#afc5df"/>
<rect y="90.60" fill="#8eacd1"/>
<rect y="91.60" fill="#b7cae2"/>
<rect y="92.60" fill="#d5e0ee"/>
<rect y="93.60" fill="#d0ddec"/>
<rect y="94.60" fill="#d0ddec"/>
<rect y="95.60" fill="#dde6f1"/>
<rect y="96.60" fill="#e6edf5"/>
<rect y="97.60" fill="#acc2dd"/>
<rect y="98.60" fill="#becfe4"/>
<rect y="99.60" fill="#c0d1e5"/>
<rect y="100.60" fill="#c0d1e6"/>
<rect y="101.60" fill="#bbcde3"/>
<rect y="102.60" fill="#96b2d4"/>
<rect y="103.60" fill="#a0b9d8"/>
<rect y="104.60" fill="#a4bcda"/>
<rect y="105.60" fill="#d0dcec"/>
<rect y="106.60" fill="#dfe8f2"/>
<rect y="107.60" fill="#f4f7fb"/>
<rect y="108.60" fill="#e2e9f3"/>
<rect y="109.60" fill="#e8eef6"/>
<rect y="110.60" fill="#e5ecf4"/>
<rect y="111.60" fill="#e5ecf5"/>
<rect y="112.60" fill="#dde6f1"/>
<rect y="113.60" fill="#c2d2e6"/>
<rect y="114.60" fill="#99b4d5"/>
<rect y="115.60" fill="#a2bbd9"/>
<rect y="116.60" fill="#9fb9d8"/>
<rect y="117.60" fill="#aac1dc"/>
<rect y="118.60" fill="#90add2"/>
<rect y="119.60" fill="#88a8cf"/>
<rect y="120.60" fill="#7ea0ca"/>
<rect y="121.60" fill="#8eacd1"/>
<rect y="122.60" fill="#81a3cc"/>
<rect y="123.60" fill="#7c9fc9"/>
<rect y="124.60" fill="#83a4cd"/>
<rect y="125.60" fill="#a4bdda"/>
<rect y="126.60" fill="#8caad0"/>
<rect y="127.60" fill="#c5d4e7"/>
<rect y="128.60" fill="#c6d5e8"/>
<rect y="129.60" fill="#c5d5e7"/>
<rect y="130.60" fill="#93b0d3"/>
<rect y="131.60" fill="#9eb8d8"/>
<rect y="132.60" fill="#e1828a"/>
<rect y="133.60" fill="#e9a6ab"/>
<rect y="134.60" fill="#e79da3"/>
<rect y="135.60" fill="#e59399"/>
<rect y="136.60" fill="#e5969c"/>
<rect y="137.60" fill="#f0c1c4"/>
<rect y="138.60" fill="#efbcc0"/>
<rect y="139.60" fill="#e79ca2"/>
<rect y="140.60" fill="#e6979d"/>
<rect y="141.60" fill="#dc747d"/>
<rect y="142.60" fill="#dd767f"/>
<rect y="143.60" fill="#dc747d"/>
<rect y="144.60" fill="#f0c1c5"/>
<rect y="145.60" fill="#f2cacd"/>
<rect y="146.60" fill="#f2cbce"/>
<rect y="147.60" fill="#e79ca2"/>
<rect y="148.60" fill="#e48f96"/>
<rect y="149.60" fill="#db737b"/>
<rect y="150.60" fill="#e38c92"/>
<rect y="151.60" fill="#e79ba1"/>
<rect y="152.60" fill="#f1c5c8"/>
<rect y="153.60" fill="#efbdc1"/>
<rect y="154.60" fill="#e8a1a6"/>
<rect y="155.60" fill="#eaa7ac"/>
<rect y="156.60" fill="#e8a2a8"/>
<rect y="157.60" fill="#e9a6ac"/>
<rect y="158.60" fill="#f0c2c6"/>
<rect y="159.60" fill="#e49198"/>
<rect y="160.60" fill="#eaa9ae"/>
<rect y="161.60" fill="#eaabb0"/>
<rect y="162.60" fill="#f4d0d3"/>
<rect y="163.60" fill="#f0c2c5"/>
<rect y="164.60" fill="#f3ced1"/>
<rect y="165.60" fill="#e9a4a9"/>
<rect y="166.60" fill="#e8a2a8"/>
<rect y="167.60" fill="#e8a0a5"/>
<rect y="168.60" fill="#e49197"/>
<rect y="169.60" fill="#e38c93"/>
<rect y="170.60" fill="#e8a2a8"/>
<rect y="171.60" fill="#e1838a"/>
<rect y="172.60" fill="#e49298"/>
<rect y="173.60" fill="#e6999f"/>
<rect y="174.60" fill="#e9a5aa"/>
<rect y="175.60" fill="#ecb1b5"/>
<rect y="176.60" fill="#e9a4aa"/>
<rect y="177.60" fill="#e38c92"/>
<rect y="178.60" fill="#f5d6d9"/>
<rect y="179.60" fill="#e9a7ac"/>
<rect y="180.60" fill="#e5969c"/>
<rect y="181.60" fill="#e69ba1"/>
<rect y="182.60" fill="#e28990"/>
<rect y="183.60" fill="#da727b"/>
<rect y="184.60" fill="#e07f87"/>
<rect y="185.60" fill="#e49399"/>
<rect y="186.60" fill="#d2646e"/>
<rect y="187.60" fill="#d76c76"/>
<rect y="188.60" fill="#ecb2b6"/>
<rect y="189.60" fill="#ebaeb2"/>
<rect y="190.60" fill="#eaaaaf"/>
<rect y="191.60" fill="#eaa8ad"/>
<rect y="192.60" fill="#eeb9bd"/>
<rect y="193.60" fill="#e48f96"/>
<rect y="194.60" fill="#e28990"/>
<rect y="195.60" fill="#e5959c"/>
<rect y="196.60" fill="#e79ba1"/>
<rect y="197.60" fill="#e6989e"/>
<rect y="198.60" fill="#efc0c3"/>
<rect y="199.60" fill="#de7a82"/>
<rect y="200.60" fill="#eaaaaf"/>
<rect y="201.60" fill="#e9a5ab"/>
<rect y="202.60" fill="#e2888f"/>
<rect y="203.60" fill="#e49197"/>
<rect y="204.60" fill="#e8a1a6"/>
<rect y="205.60" fill="#e49097"/>
<rect y="206.60" fill="#e08188"/>
<rect y="207.60" fill="#e6979d"/>
<rect y="208.60" fill="#e8a1a7"/>
<rect y="209.60" fill="#ecb1b6"/>
<rect y="210.60" fill="#e38d93"/>
<rect y="211.60" fill="#e38d94"/>
<rect y="212.60" fill="#d86e77"/>
<rect y="213.60" fill="#d46771"/>
<rect y="214.60" fill="#e08189"/>
<rect y="215.60" fill="#d97079"/>
<rect y="216.60" fill="#e07f87"/>
<rect y="217.60" fill="#de7a82"/>
<rect y="218.60" fill="#e38d94"/>
<rect y="219.60" fill="#e6999f"/>
<rect y="220.60" fill="#ebaeb3"/>
<rect y="221.60" fill="#e8a0a6"/>
<rect y="222.60" fill="#e08088"/>
<rect y="223.60" fill="#e5959c"/>
<rect y="224.60" fill="#ecb3b8"/>
<rect y="225.60" fill="#e89fa5"/>
<rect y="226.60" fill="#e79ba1"/>
<rect y="227.60" fill="#e9a4a9"/>
<rect y="228.60" fill="#e07e86"/>
<rect y="229.60" fill="#d36570"/>
<rect y="230.60" fill="#d96f79"/>
<rect y="231.60" fill="#e2888f"/>
<rect y="232.60" fill="#f2c9cc"/>
<rect y="233.60" fill="#edb6ba"/>
<rect y="234.60" fill="#eeb8bc"/>
<rect y="235.60" fill="#db727b"/>
<rect y="236.60" fill="#eaa9ae"/>
<rect y="237.60" fill="#de7a82"/>
<rect y="238.60" fill="#df7e85"/>
<rect y="239.60" fill="#de7a82"/>
<rect y="240.60" fill="#e79ca2"/>
<rect y="241.60" fill="#e79ca2"/>
<rect y="242.60" fill="#f3cfd2"/>
<rect y="243.60" fill="#df7c84"/>
<rect y="244.60" fill="#d2636e"/>
<rect y="245.60" fill="#e79da3"/>
<rect y="246.60" fill="#e79ca2"/>
<rect y="247.60" fill="#e5949b"/>
<rect y="248.60" fill="#dc747d"/>
<rect y="249.60" fill="#e8a3a8"/>
<rect y="250.60" fill="#e08087"/>
<rect y="251.60" fill="#e6979d"/>
<rect y="252.60" fill="#e8a0a6"/>
<rect y="253.60" fill="#e79ea3"/>
<rect y="254.60" fill="#e38c92"/>
<rect y="255.60" fill="#e38e95"/>
<rect y="256.60" fill="#f3cdd0"/>
<rect y="257.60" fill="#e79ea3"/>
<rect y="258.60" fill="#e5959b"/>
<rect y="259.60" fill="#e2878e"/>
<rect y="260.60" fill="#e38e95"/>
<rect y="261.60" fill="#df7c83"/>
<rect y="262.60" fill="#dd767e"/>
<rect y="263.60" fill="#de7880"/>
<rect y="264.60" fill="#de7880"/>
<rect y="265.60" fill="#d0606c"/>
<rect y="266.60" fill="#e79da3"/>
<rect y="267.60" fill="#d66973"/>
<rect y="268.60" fill="#da717a"/>
<rect y="269.60" fill="#e28990"/>
<rect y="270.60" fill="#e08189"/>
<rect y="271.60" fill="#e28990"/>
<rect y="272.60" fill="#e08087"/>
<rect y="273.60" fill="#df7a82"/>
<rect y="274.60" fill="#d66a74"/>
</g>
<g transform="translate(100.80 0)">
<rect y="46.60" fill="#c64f5d"/>
<rect y="47.60" fill="#c24655"/>
<rect y="48.60" fill="#bb3b4c"/>
<rect y="49.60" fill="#d76b75"/>
<rect y="50.60" fill="#bf4151"/>
<rect y="51.60" fill="#c24756"/>
<rect y="52.60" fill="#bf4151"/>
<rect y="53.60" fill="#cc5966"/>
<rect y="54.60" fill="#d66a74"/>
<rect y="55.60" fill="#db727b"/>
<rect y="56.60" fill="#da717a"/>
<rect y="57.60" fill="#b83547"/>
<rect y="58.60" fill="#bd3d4e"/>
<rect y="59.60" fill="#b42e40"/>
<rect y="60.60" fill="#bf4251"/>
<rect y="61.60" fill="#bf4151"/>
<rect y="62.60" fill="#b42e41"/>
<rect y="63.60" fill="#ab1e32"/>
<rect y="64.60" fill="#c7505d"/>
<rect y="65.60" fill="#ca5562"/>
<rect y="66.60" fill="#c54d5b"/>
<rect y="67.60" fill="#c74f5d"/>
<rect y="68.60" fill="#bd3e4e"/>
<rect y="69.60" fill="#c54c5a"/>
<rect y="70.60" fill="#c64f5c"/>
<rect y="71.60" fill="#c14454"/>
<rect y="72.60" fill="#e2878f"/>
<rect y="73.60" fill="#e1858d"/>
<rect y="74.60" fill="#bb3b4c"/>
<rect y="75.60" fill="#ba3849"/>
<rect y="76.60" fill="#b73445"/>
<rect y="77.60" fill="#b73445"/>
<rect y="78.60" fill="#c14454"/>
<rect y="79.60" fill="#c04453"/>
<rect y="80.60" fill="#c44a58"/>
<rect y="81.60" fill="#d2646e"/>
<rect y="82.60" fill="#d05f6a"/>
<rect y="83.60" fill="#b63244"/>
<rect y="84.60" fill="#c54c5a"/>
<rect y="85.60" fill="#d36570"/>
<rect y="86.60" fill="#d1626d"/>
<rect y="87.60" fill="#bb3b4c"/>
<rect y="88.60" fill="#c64f5c"/>
<rect y="89.60" fill="#b93748"/>
<rect y="90.60" fill="#af263a"/>
<rect y="91.60" fill="#b0273a"/>
<rect y="92.60" fill="#c7505e"/>
<rect y="93.60" fill="#c04353"/>
<rect y="94.60" fill="#c54d5b"/>
<rect y="95.60" fill="#c8515f"/>
<rect y="96.60" fill="#d2646f"/>
<rect y="97.60" fill="#da727b"/>
<rect y="98.60" fill="#e1838a"/>
<rect y="99.60" fill="#c34957"/>
<rect y="100.60" fill="#c95461"/>
<rect y="101.60" fill="#ca5562"/>
<rect y="102.60" fill="#b22b3e"/>
<rect y="103.60" fill="#b32d40"/>
<rect y="104.60" fill="#b32c3f"/>
<rect y="105.60" fill="#b83547"/>
<rect y="106.60" fill="#c8525f"/>
<rect y="107.60" fill="#c14554"/>
<rect y="108.60" fill="#c14554"/>
<rect y="109.60" fill="#ad2136"/>
<rect y="110.60" fill="#b32c3f"/>
<rect y="111.60" fill="#e79ba1"/>
<rect y="112.60" fill="#e69aa0"/>
<rect y="113.60" fill="#e69aa0"/>
<rect y="114.60" fill="#b93748"/>
<rect y="115.60" fill="#b83546"/>
<rect y="116.60" fill="#c44b59"/>
<rect y="117.60" fill="#c64e5c"/>
<rect y="118.60" fill="#ce5c68"/>
<rect y="119.60" fill="#b0273a"/>
<rect y="120.60" fill="#d76c76"/>
<rect y="121.60" fill="#b42e41"/>
<rect y="122.60" fill="#c44a59"/>
<rect y="123.60" fill="#c74f5d"/>
<rect y="124.60" fill="#cb5663"/>
<rect y="125.60" fill="#d05f6a"/>
<rect y="126.60" fill="#cd5966"/>
<rect y="127.60" fill="#bc3c4c"/>
<rect y="128.60" fill="#bf4252"/>
<rect y="129.60" fill="#c14554"/>
<rect y="130.60" fill="#c14454"/>
<rect y="131.60" fill="#cd5b67"/>
<rect y="132.60" fill="#537bb0"/>
<rect y="133.60" fill="#547db1"/>
<rect y="134.60" fill="#275693"/>
<rect y="135.60" fill="#2c5a97"/>
<rect y="136.60" fill="#33609b"/>
<rect y="137.60" fill="#1c4c8c"/>
<rect y="138.60" fill="#305d99"/>
<rect y="139.60" fill="#426da5"/>
<rect y="140.60" fill="#4872a9"/>
<rect y="141.60" fill="#295794"/>
<rect y="142.60" fill="#265593"/>
<rect y="143.60" fill="#275593"/>
<rect y="144.60" fill="#6289ba"/>
<rect y="145.60" fill="#668dbd"/>
<rect y="146.60" fill="#5f86b8"/>
<rect y="147.60" fill="#81a2cc"/>
<rect y="148.60" fill="#1c4c8c"/>
<rect y="149.60" fill="#245391"/>
<rect y="150.60" fill="#567eb2"/>
<rect y="151.60" fill="#577fb3"/>
<rect y="152.60" fill="#577fb2"/>
<rect y="153.60" fill="#285694"/>
<rect y="154.60" fill="#1c4c8c"/>
<rect y="155.60" fill="#1c4c8c"/>
<rect y="156.60" fill="#1c4c8c"/>
<rect y="157.60" fill="#1c4c8c"/>
<rect y="158.60" fill="#1c4c8c"/>
<rect y="159.60" fill="#275693"/>
<rect y="160.60" fill="#2d5b97"/>
<rect y="161.60" fill="#245391"/>
<rect y="162.60" fill="#1c4c8c"/>
<rect y="163.60" fill="#225190"/>
<rect y="164.60" fill="#225190"/>
<rect y="165.60" fill="#2e5c98"/>
<rect y="166.60" fill="#36629d"/>
<rect y="167.60" fill="#34609b"/>
<rect y="168.60" fill="#8baad0"/>
<rect y="169.60" fill="#6e94c2"/>
<rect y="170.60" fill="#5c83b6"/>
<rect y="171.60" fill="#799dc8"/>
<rect y="172.60" fill="#89a8cf"/>
<rect y="173.60" fill="#4c76ab"/>
<rect y="174.60" fill="#537cb0"/>
<rect y="175.60" fill="#1c4c8c"/>
<rect y="176.60" fill="#5880b3"/>
<rect y="177.60" fill="#5a82b5"/>
<rect y="178.60" fill="#547db1"/>
<rect y="179.60" fill="#3a669f"/>
<rect y="180.60" fill="#285694"/>
<rect y="181.60" fill="#567fb2"/>
<rect y="182.60" fill="#5a82b4"/>
<rect y="183.60" fill="#658bbb"/>
<rect y="184.60" fill="#1c4c8c"/>
<rect y="185.60" fill="#1e4e8d"/>
<rect y="186.60" fill="#3c68a1"/>
<rect y="187.60" fill="#39659f"/>
<rect y="188.60" fill="#3a669f"/>
<rect y="189.60" fill="#507aae"/>
<rect y="190.60" fill="#4671a8"/>
<rect y="191.60" fill="#1f4e8e"/>
<rect y="192.60" fill="#1c4c8c"/>
<rect y="193.60" fill="#1c4c8c"/>
<rect y="194.60" fill="#39659f"/>
<rect y="195.60" fill="#6d92c1"/>
<rect y="196.60" fill="#1c4c8c"/>
<rect y="197.60" fill="#245391"/>
<rect y="198.60" fill="#2c5a96"/>
<rect y="199.60" fill="#2c5a96"/>
<rect y="200.60" fill="#325f9a"/>
<rect y="201.60" fill="#305d99"/>
<rect y="202.60" fill="#3b67a0"/>
<rect y="203.60" fill="#3b67a0"/>
<rect y="204.60" fill="#3e6aa2"/>
<rect y="205.60" fill="#5e85b7"/>
<rect y="206.60" fill="#658cbc"/>
<rect y="207.60" fill="#255492"/>
<rect y="208.60" fill="#275693"/>
<rect y="209.60" fill="#5d84b6"/>
<rect y="210.60" fill="#5e85b7"/>
<rect y="211.60" fill="#325f9a"/>
<rect y="212.60" fill="#38649e"/>
<rect y="213.60" fill="#38649e"/>
<rect y="214.60" fill="#416ca4"/>
<rect y="215.60" fill="#3c68a1"/>
<rect y="216.60" fill="#4872a9"/>
<rect y="217.60" fill="#517aae"/>
<rect y="218.60" fill="#1c4c8c"/>
<rect y="219.60" fill="#537cb0"/>
<rect y="220.60" fill="#5079ae"/>
<rect y="221.60" fill="#1c4c8c"/>
<rect y="222.60" fill="#1c4c8c"/>
<rect y="223.60" fill="#4671a8"/>
<rect y="224.60" fill="#4a74aa"/>
<rect y="225.60" fill="#4570a7"/>
<rect y="226.60" fill="#325f9a"/>
<rect y="227.60" fill="#2f5d99"/>
<rect y="228.60" fill="#1c4c8c"/>
<rect y="229.60" fill="#265593"/>
<rect y="230.60" fill="#285694"/>
<rect y="231.60" fill="#245391"/>
<rect y="232.60" fill="#295895"/>
<rect y="233.60" fill="#1c4c8c"/>
<rect y="234.60" fill="#2a5895"/>
<rect y="235.60" fill="#1c4c8c"/>
<rect y="236.60" fill="#1c4c8c"/>
<rect y="237.60" fill="#1c4c8c"/>
<rect y="238.60" fill="#1c4c8c"/>
<rect y="239.60" fill="#1c4c8c"/>
<rect y="240.60" fill="#1c4c8c"/>
<rect y="241.60" fill="#1c4c8c"/>
<rect y="242.60" fill="#1c4c8c"/>
<rect y="243.60" fill="#1c4c8c"/>
<rect y="244.60" fill="#1c4c8c"/>
<rect y="245.60" fill="#1c4c8c"/>
<rect y="246.60" fill="#20508f"/>
<rect y="247.60" fill="#1c4c8c"/>
<rect y="248.60" fill="#1c4c8c"/>
<rect y="249.60" fill="#1c4c8c"/>
<rect y="250.60" fill="#2b5996"/>
<rect y="251.60" fill="#285794"/>
<rect y="252.60" fill="#4973a9"/>
<rect y="253.60" fill="#436ea5"/>
<rect y="254.60" fill="#36629d"/>
<rect y="255.60" fill="#5d85b7"/>
<rect y="256.60" fill="#638abb"/>
<rect y="257.60" fill="#648bbb"/>
<rect y="258.60" fill="#1c4c8c"/>
<rect y="259.60" fill="#1c4c8c"/>
<rect y="260.60" fill="#245391"/>
<rect y="261.60" fill="#6b91c0"/>
<rect y="262.60" fill="#6a90bf"/>
<rect y="263.60" fill="#456fa7"/>
<rect y="264.60" fill="#446fa6"/>
<rect y="265.60" fill="#436ea5"/>
<rect y="266.60" fill="#1c4c8c"/>
<rect y="267.60" fill="#1c4c8c"/>
<rect y="268.60" fill="#1c4c8c"/>
<rect y="269.60" fill="#1c4c8c"/>
<rect y="270.60" fill="#3e6aa2"/>
<rect y="271.60" fill="#1f4f8e"/>
<rect y="272.60" fill="#255492"/>
<rect y="273.60" fill="#265492"/>
<rect y="274.60" fill="#1c4c8c"/>
</g>
<g transform="translate(117.20 0)">
<rect y="46.60" fill="#e9a7ac"/>
<rect y="47.60" fill="#e28990"/>
<rect y="48.60" fill="#eaaaaf"/>
<rect y="49.60" fill="#e1838a"/>
<rect y="50.60" fill="#e2878e"/>
<rect y="51.60" fill="#e07e86"/>
<rect y="52.60" fill="#e5949a"/>
<rect y="53.60" fill="#e5969c"/>
<rect y="54.60" fill="#e69aa0"/>
<rect y="55.60" fill="#cd5a66"/>
<rect y="56.60" fill="#e38e95"/>
<rect y="57.60" fill="#e49197"/>
<rect y="58.60" fill="#cf5d69"/>
<rect y="59.60" fill="#c95461"/>
<rect y="60.60" fill="#e6999f"/>
<rect y="61.60" fill="#e38b92"/>
<rect y="62.60" fill="#e49096"/>
<rect y="63.60" fill="#d86d76"/>
<rect y="64.60" fill="#e28990"/>
<rect y="65.60" fill="#e2868e"/>
<rect y="66.60" fill="#e1838a"/>
<rect y="67.60" fill="#e79ea4"/>
<rect y="68.60" fill="#e28a91"/>
<rect y="69.60" fill="#e69aa0"/>
<rect y="70.60" fill="#e59399"/>
<rect y="71.60" fill="#eaaaaf"/>
<rect y="72.60" fill="#e5969d"/>
<rect y="73.60" fill="#e38b92"/>
<rect y="74.60" fill="#efbcc0"/>
<rect y="75.60" fill="#fcf4f5"/>
<rect y="76.60" fill="#fcf4f5"/>
<rect y="77.60" fill="#f8e1e3"/>
<rect y="78.60" fill="#f8e1e3"/>
<rect y="79.60" fill="#f7dddf"/>
<rect y="80.60" fill="#fcf4f5"/>
<rect y="81.60" fill="#fbeff0"/>
<rect y="82.60" fill="#f9e5e7"/>
<rect y="83.60" fill="#e8a1a6"/>
<rect y="84.60" fill="#faebec"/>
<rect y="85.60" fill="#f8e1e3"/>
<rect y="86.60" fill="#f3ced1"/>
<rect y="87.60" fill="#f3cfd2"/>
<rect y="88.60" fill="#f4d3d6"/>
<rect y="89.60" fill="#f9e6e7"/>
<rect y="90.60" fill="#eaa9ae"/>
<rect y="91.60" fill="#f8e1e3"/>
<rect y="92.60" fill="#efbdc1"/>
<rect y="93.60" fill="#d66a74"/>
<rect y="94.60" fill="#d66973"/>
<rect y="95.60" fill="#e79ea4"/>
<rect y="96.60" fill="#e9a6ab"/>
<rect y="97.60" fill="#e9a4aa"/>
<rect y="98.60" fill="#e9a3a9"/>
<rect y="99.60" fill="#e6979d"/>
<rect y="100.60" fill="#e6979d"/>
<rect y="101.60" fill="#eeb9bd"/>
<rect y="102.60" fill="#f0c2c6"/>
<rect y="103.60" fill="#de7a82"/>
<rect y="104.60" fill="#e79da3"/>
<rect y="105.60" fill="#e5959c"/>
<rect y="106.60" fill="#e8a2a7"/>
<rect y="107.60" fill="#eebabe"/>
<rect y="108.60" fill="#e28990"/>
<rect y="109.60" fill="#fbeeef"/>
<rect y="110.60" fill="#d2636e"/>
<rect y="111.60" fill="#d1616c"/>
<rect y="112.60" fill="#e8a1a7"/>
<rect y="113.60" fill="#f4d3d6"/>
<rect y="114.60" fill="#f3cfd1"/>
<rect y="115.60" fill="#e6989e"/>
<rect y="116.60" fill="#f5d5d7"/>
<rect y="117.60" fill="#eaa9af"/>
<rect y="118.60" fill="#e5969c"/>
<rect y="119.60" fill="#e69aa0"/>
<rect y="120.60" fill="#e49298"/>
<rect y="121.60" fill="#efbfc3"/>
<rect y="122.60" fill="#da717a"/>
<rect y="123.60" fill="#d2636e"/>
<rect y="124.60" fill="#d1616c"/>
<rect y="125.60" fill="#ecb1b6"/>
<rect y="126.60" fill="#ebaeb3"/>
<rect y="127.60" fill="#d86e77"/>
<rect y="128.60" fill="#e79ca2"/>
<rect y="129.60" fill="#d76c76"/>
<rect y="130.60" fill="#e48f96"/>
<rect y="131.60" fill="#e79ea4"/>
<rect y="132.60" fill="#678ebd"/>
<rect y="133.60" fill="#7095c3"/>
<rect y="134.60" fill="#6f94c2"/>
<rect y="135.60" fill="#6d92c1"/>
<rect y="136.60" fill="#6c92c0"/>
<rect y="137.60" fill="#87a7ce"/>
<rect y="138.60" fill="#87a7ce"/>
<rect y="139.60" fill="#5c84b6"/>
<rect y="140.60" fill="#5b83b5"/>
<rect y="141.60" fill="#779bc7"/>
<rect y="142.60" fill="#6c91c0"/>
<rect y="143.60" fill="#769ac6"/>
<rect y="144.60" fill="#7da0ca"/>
<rect y="145.60" fill="#7fa1cb"/>
<rect y="146.60" fill="#7498c5"/>
<rect y="147.60" fill="#7196c3"/>
<rect y="148.60" fill="#7095c3"/>
<rect y="149.60" fill="#759ac6"/>
<rect y="150.60" fill="#779bc7"/>
<rect y="151.60" fill="#799cc8"/>
<rect y="152.60" fill="#85a5cd"/>
<rect y="153.60" fill="#a3bcda"/>
<rect y="154.60" fill="#bccee4"/>
<rect y="155.60" fill="#bfd0e5"/>
<rect y="156.60" fill="#85a5cd"/>
<rect y="157.60" fill="#99b4d6"/>
<rect y="158.60" fill="#a6bedb"/>
<rect y="159.60" fill="#aac1dc"/>
<rect y="160.60" fill="#f4f7fb"/>
<rect y="161.60" fill="#f0f4f9"/>
<rect y="162.60" fill="#f4f7fb"/>
<rect y="163.60" fill="#f2f5fa"/>
<rect y="164.60" fill="#f4f7fb"/>
<rect y="165.60" fill="#f4f7fb"/>
<rect y="166.60" fill="#f4f7fb"/>
<rect y="167.60" fill="#d9e3ef"/>
<rect y="168.60" fill="#d0ddec"/>
<rect y="169.60" fill="#f4f7fb"/>
<rect y="170.60" fill="#f4f7fb"/>
<rect y="171.60" fill="#f4f7fb"/>
<rect y="172.60" fill="#d6e1ee"/>
<rect y="173.60" fill="#eff3f8"/>
<rect y="174.60" fill="#e2eaf3"/>
<rect y="175.60" fill="#e6ecf5"/>
<rect y="176.60" fill="#cbd9ea"/>
<rect y="177.60" fill="#dde6f1"/>
<rect y="178.60" fill="#cbd9ea"/>
<rect y="179.60" fill="#c5d5e7"/>
<rect y="180.60" fill="#f4f7fb"/>
<rect y="181.60" fill="#f4f7fb"/>
<rect y="182.60" fill="#f4f7fb"/>
<rect y="183.60" fill="#f4f7fb"/>
<rect y="184.60" fill="#f4f7fb"/>
<rect y="185.60" fill="#f4f7fb"/>
<rect y="186.60" fill="#edf2f8"/>
<rect y="187.60" fill="#cddaeb"/>
<rect y="188.60" fill="#f4f7fb"/>
<rect y="189.60" fill="#f4f7fb"/>
<rect y="190.60" fill="#c1d2e6"/>
<rect y="191.60" fill="#e5ecf4"/>
<rect y="192.60" fill="#cfdbeb"/>
<rect y="193.60" fill="#f4f7fb"/>
<rect y="194.60" fill="#f4f7fb"/>
<rect y="195.60" fill="#f4f7fb"/>
<rect y="196.60" fill="#cad8e9"/>
<rect y="197.60" fill="#c3d3e6"/>
<rect y="198.60" fill="#b0c5df"/>
<rect y="199.60" fill="#90aed2"/>
<rect y="200.60" fill="#86a6ce"/>
<rect y="201.60" fill="#7a9ec9"/>
<rect y="202.60" fill="#88a7ce"/>
<rect y="203.60" fill="#d0ddec"/>
<rect y="204.60" fill="#eef2f8"/>
<rect y="205.60" fill="#e2e9f3"/>
<rect y="206.60" fill="#8fadd1"/>
<rect y="207.60" fill="#95b1d4"/>
<rect y="208.60" fill="#a5bdda"/>
<rect y="209.60" fill="#e3eaf4"/>
<rect y="210.60" fill="#f4f7fb"/>
<rect y="211.60" fill="#f4f7fb"/>
<rect y="212.60" fill="#c0d1e5"/>
<rect y="213.60" fill="#dce6f1"/>
<rect y="214.60" fill="#d7e1ef"/>
<rect y="215.60" fill="#dae4f0"/>
<rect y="216.60" fill="#e5ecf4"/>
<rect y="217.60" fill="#eef2f8"/>
<rect y="218.60" fill="#dae4f0"/>
<rect y="219.60" fill="#c1d2e6"/>
<rect y="220.60" fill="#ccdaea"/>
<rect y="221.60" fill="#d6e1ee"/>
<rect y="222.60" fill="#f4f7fb"/>
<rect y="223.60" fill="#d5e0ee"/>
<rect y="224.60" fill="#f4f7fb"/>
<rect y="225.60" fill="#f4f7fb"/>
<rect y="226.60" fill="#bfd0e5"/>
<rect y="227.60" fill="#b8cbe2"/>
<rect y="228.60" fill="#c1d1e6"/>
<rect y="229.60" fill="#dce5f1"/>
<rect y="230.60" fill="#f4f7fb"/>
<rect y="231.60" fill="#f4f7fb"/>
<rect y="232.60" fill="#eaf0f7"/>
<rect y="233.60" fill="#c6d5e8"/>
<rect y="234.60" fill="#e0e8f2"/>
<rect y="235.60" fill="#a0b9d8"/>
<rect y="236.60" fill="#b2c6e0"/>
<rect y="237.60" fill="#adc3de"/>
<rect y="238.60" fill="#adc3de"/>
<rect y="239.60" fill="#e9eff6"/>
<rect y="240.60" fill="#e3eaf4"/>
<rect y="241.60" fill="#dce6f1"/>
<rect y="242.60" fill="#9db7d7"/>
<rect y="243.60" fill="#a3bcda"/>
<rect y="244.60" fill="#becfe4"/>
<rect y="245.60" fill="#afc4de"/>
<rect y="246.60" fill="#aac1dc"/>
<rect y="247.60" fill="#a2bbd9"/>
<rect y="248.60" fill="#a5bdda"/>
<rect y="249.60" fill="#9cb7d7"/>
<rect y="250.60" fill="#d7e2ef"/>
<rect y="251.60" fill="#becfe5"/>
<rect y="252.60" fill="#8aa9cf"/>
<rect y="253.60" fill="#82a4cc"/>
<rect y="254.60" fill="#85a6cd"/>
<rect y="255.60" fill="#99b4d5"/>
<rect y="256.60" fill="#a1bad9"/>
<rect y="257.60" fill="#88a8ce"/>
<rect y="258.60" fill="#92afd2"/>
<rect y="259.60" fill="#c1d2e6"/>
<rect y="260.60" fill="#8eacd1"/>
<rect y="261.60" fill="#cbd9ea"/>
<rect y="262.60" fill="#7397c5"/>
<rect y="263.60" fill="#7398c5"/>
<rect y="264.60" fill="#7196c3"/>
<rect y="265.60" fill="#aac1dc"/>
<rect y="266.60" fill="#a2bbd9"/>
<rect y="267.60" fill="#9db7d7"/>
<rect y="268.60" fill="#6c92c0"/>
<rect y="269.60" fill="#688ebe"/>
<rect y="270.60" fill="#d5e0ee"/>
<rect y="271.60" fill="#dce5f1"/>
<rect y="272.60" fill="#9db7d7"/>
<rect y="273.60" fill="#a2bbd9"/>
<rect y="274.60" fill="#abc1dd"/>
</g>
<g transform="translate(133.60 0)">
<rect y="46.60" fill="#fbedee"/>
<rect y="47.60" fill="#efbdc1"/>
<rect y="48.60" fill="#f0c3c7"/>
<rect y="49.60" fill="#e8a0a6"/>
<rect y="50.60" fill="#e5949a"/>
<rect y="51.60" fill="#e9a4a9"/>
<rect y="52.60" fill="#f0c0c4"/>
<rect y="53.60" fill="#de7981"/>
<rect y="54.60" fill="#d96e78"/>
<rect y="55.60" fill="#edb6bb"/>
<rect y="56.60" fill="#ebaeb3"/>
<rect y="57.60" fill="#e28990"/>
<rect y="58.60" fill="#e38e95"/>
<rect y="59.60" fill="#e1858c"/>
<rect y="60.60" fill="#e6999f"/>
<rect y="61.60" fill="#e79ba1"/>
<rect y="62.60" fill="#f0c3c7"/>
<rect y="63.60" fill="#e38d94"/>
<rect y="64.60" fill="#e08188"/>
<rect y="65.60" fill="#e89fa5"/>
<rect y="66.60" fill="#eeb9bd"/>
<rect y="67.60" fill="#edb6ba"/>
<rect y="68.60" fill="#eebbbf"/>
<rect y="69.60" fill="#efbcc0"/>
<rect y="70.60" fill="#eebabe"/>
<rect y="71.60" fill="#e6999f"/>
<rect y="72.60" fill="#db737b"/>
<rect y="73.60" fill="#bc3c4d"/>
<rect y="74.60" fill="#b53042"/>
<rect y="75.60" fill="#a91a2f"/>
<rect y="76.60" fill="#a5142a"/>
<rect y="77.60" fill="#ad2236"/>
<rect y="78.60" fill="#d05f6a"/>
<rect y="79.60" fill="#c7505e"/>
<rect y="80.60" fill="#d96f79"/>
<rect y="81.60" fill="#d76b75"/>
<rect y="82.60" fill="#c14655"/>
<rect y="83.60" fill="#e2878e"/>
<rect y="84.60" fill="#ca5562"/>
<rect y="85.60" fill="#d66a74"/>
<rect y="86.60" fill="#d2636e"/>
<rect y="87.60" fill="#c8525f"/>
<rect y="88.60" fill="#df7b83"/>
<rect y="89.60" fill="#d66b74"/>
<rect y="90.60" fill="#c14454"/>
<rect y="91.60" fill="#c04352"/>
<rect y="92.60" fill="#bd3e4e"/>
<rect y="93.60" fill="#e9a6ab"/>
<rect y="94.60" fill="#e9a5aa"/>
<rect y="95.60" fill="#dc747d"/>
<rect y="96.60" fill="#d66973"/>
<rect y="97.60" fill="#d3646f"/>
<rect y="98.60" fill="#d2636e"/>
<rect y="99.60" fill="#ba3849"/>
<rect y="100.60" fill="#b32c3f"/>
<rect y="101.60" fill="#c14554"/>
<rect y="102.60" fill="#da727b"/>
<rect y="103.60" fill="#c8515f"/>
<rect y="104.60" fill="#a5142a"/>
<rect y="105.60" fill="#a5142a"/>
<rect y="106.60" fill="#a5142a"/>
<rect y="107.60" fill="#ad2337"/>
<rect y="108.60" fill="#a5142a"/>
<rect y="109.60" fill="#d2636e"/>
<rect y="110.60" fill="#edb7bb"/>
<rect y="111.60" fill="#eaa7ac"/>
<rect y="112.60" fill="#ebaeb3"/>
<rect y="113.60" fill="#dc747c"/>
<rect y="114.60" fill="#d66a74"/>
<rect y="115.60" fill="#de7880"/>
<rect y="116.60" fill="#cc5865"/>
<rect y="117.60" fill="#ce5b67"/>
<rect y="118.60" fill="#e48f95"/>
<rect y="119.60" fill="#e38d93"/>
<rect y="120.60" fill="#e79da3"/>
<rect y="121.60" fill="#f0c0c4"/>
<rect y="122.60" fill="#df7a82"/>
<rect y="123.60" fill="#df7c84"/>
<rect y="124.60" fill="#e08087"/>
<rect y="125.60" fill="#dc747c"/>
<rect y="126.60" fill="#de7a82"/>
<rect y="127.60" fill="#cc5864"/>
<rect y="128.60" fill="#ca5562"/>
<rect y="129.60" fill="#dc757d"/>
<rect y="130.60" fill="#e07e86"/>
<rect y="131.60" fill="#fcf4f5"/>
<rect y="132.60" fill="#245391"/>
<rect y="133.60" fill="#2b5996"/>
<rect y="134.60" fill="#789cc8"/>
<rect y="135.60" fill="#7b9ec9"/>
<rect y="136.60" fill="#a5bdda"/>
<rect y="137.60" fill="#8aa9cf"/>
<rect y="138.60" fill="#a1bad9"/>
<rect y="139.60" fill="#a2bbd9"/>
<rect y="140.60" fill="#86a7ce"/>
<rect y="141.60" fill="#8cabd0"/>
<rect y="142.60" fill="#3e6aa2"/>
<rect y="143.60" fill="#36639d"/>
<rect y="144.60" fill="#33609b"/>
<rect y="145.60" fill="#799dc8"/>
<rect y="146.60" fill="#799dc8"/>
<rect y="147.60" fill="#8baad0"/>
<rect y="148.60" fill="#a5bdda"/>
<rect y="149.60" fill="#f4f7fb"/>
<rect y="150.60" fill="#f4f7fb"/>
<rect y="151.60" fill="#f4f7fb"/>
<rect y="152.60" fill="#b8cbe2"/>
<rect y="153.60" fill="#ccd9ea"/>
<rect y="154.60" fill="#7599c6"/>
<rect y="155.60" fill="#537cb0"/>
<rect y="156.60" fill="#4d77ac"/>
<rect y="157.60" fill="#4771a8"/>
<rect y="158.60" fill="#9eb8d7"/>
<rect y="159.60" fill="#99b4d5"/>
<rect y="160.60" fill="#adc3de"/>
<rect y="161.60" fill="#b0c5df"/>
<rect y="162.60" fill="#4d77ac"/>
<rect y="163.60" fill="#4f78ad"/>
<rect y="164.60" fill="#6f94c2"/>
<rect y="165.60" fill="#7398c5"/>
<rect y="166.60" fill="#5e85b7"/>
<rect y="167.60" fill="#3b67a0"/>
<rect y="168.60" fill="#35629c"/>
<rect y="169.60" fill="#2a5895"/>
<rect y="170.60" fill="#265593"/>
<rect y="171.60" fill="#3d69a2"/>
<rect y="172.60" fill="#285794"/>
<rect y="173.60" fill="#1c4c8c"/>
<rect y="174.60" fill="#1c4c8c"/>
<rect y="175.60" fill="#547db1"/>
<rect y="176.60" fill="#406ba3"/>
<rect y="177.60" fill="#39659f"/>
<rect y="178.60" fill="#5a82b4"/>
<rect y="179.60" fill="#265492"/>
<rect y="180.60" fill="#1c4c8c"/>
<rect y="181.60" fill="#1c4c8c"/>
<rect y="182.60" fill="#1c4c8c"/>
<rect y="183.60" fill="#5e85b7"/>
<rect y="184.60" fill="#5e85b7"/>
<rect y="185.60" fill="#295794"/>
<rect y="186.60" fill="#3e6aa2"/>
<rect y="187.60" fill="#426da5"/>
<rect y="188.60" fill="#446fa6"/>
<rect y="189.60" fill="#36629d"/>
<rect y="190.60" fill="#36639d"/>
<rect y="191.60" fill="#577fb3"/>
<rect y="192.60" fill="#6b91c0"/>
<rect y="193.60" fill="#9eb8d7"/>
<rect y="194.60" fill="#9bb5d6"/>
<rect y="195.60" fill="#7599c6"/>
<rect y="196.60" fill="#7da0ca"/>
<rect y="197.60" fill="#7c9fca"/>
<rect y="198.60" fill="#7a9dc9"/>
<rect y="199.60" fill="#7b9ec9"/>
<rect y="200.60" fill="#80a2cb"/>
<rect y="201.60" fill="#8fadd1"/>
<rect y="202.60" fill="#7ea0ca"/>
<rect y="203.60" fill="#6c92c0"/>
<rect y="204.60" fill="#7499c6"/>
<rect y="205.60" fill="#7599c6"/>
<rect y="206.60" fill="#6289ba"/>
<rect y="207.60" fill="#6f95c2"/>
<rect y="208.60" fill="#7195c3"/>
<rect y="209.60" fill="#5a82b5"/>
<rect y="210.60" fill="#5880b3"/>
<rect y="211.60" fill="#a0bad8"/>
<rect y="212.60" fill="#a1bad9"/>
<rect y="213.60" fill="#7297c4"/>
<rect y="214.60" fill="#769ac6"/>
<rect y="215.60" fill="#7ea0ca"/>
<rect y="216.60" fill="#799dc9"/>
<rect y="217.60" fill="#4b75aa"/>
<rect y="218.60" fill="#406ca4"/>
<rect y="219.60" fill="#537cb0"/>
<rect y="220.60" fill="#6b91c0"/>
<rect y="221.60" fill="#698fbe"/>
<rect y="222.60" fill="#8aaad0"/>
<rect y="223.60" fill="#86a6ce"/>
<rect y="224.60" fill="#8aaad0"/>
<rect y="225.60" fill="#4e77ac"/>
<rect y="226.60" fill="#557eb1"/>
<rect y="227.60" fill="#537cb0"/>
<rect y="228.60" fill="#b9cce3"/>
<rect y="229.60" fill="#d9e3ef"/>
<rect y="230.60" fill="#cfdceb"/>
<rect y="231.60" fill="#b9cce2"/>
<rect y="232.60" fill="#b6cae1"/>
<rect y="233.60" fill="#bbcde3"/>
<rect y="234.60" fill="#bbcde3"/>
<rect y="235.60" fill="#8cabd0"/>
<rect y="236.60" fill="#99b4d5"/>
<rect y="237.60" fill="#a1bad9"/>
<rect y="238.60" fill="#bed0e5"/>
<rect y="239.60" fill="#c0d1e5"/>
<rect y="240.60" fill="#bbcde3"/>
<rect y="241.60" fill="#bbcde3"/>
<rect y="242.60" fill="#c2d2e6"/>
<rect y="243.60" fill="#97b3d5"/>
<rect y="244.60" fill="#8dacd1"/>
<rect y="245.60" fill="#aac1dc"/>
<rect y="246.60" fill="#b0c5df"/>
<rect y="247.60" fill="#e9eff6"/>
<rect y="248.60" fill="#e2eaf3"/>
<rect y="249.60" fill="#d5e0ee"/>
<rect y="250.60" fill="#a5bdda"/>
<rect y="251.60" fill="#97b3d5"/>
<rect y="252.60" fill="#a1bad9"/>
<rect y="253.60" fill="#dfe8f2"/>
<rect y="254.60" fill="#eaeff6"/>
<rect y="255.60" fill="#f4f7fa"/>
<rect y="256.60" fill="#dce5f1"/>
<rect y="257.60" fill="#d0ddec"/>
<rect y="258.60" fill="#bdcee4"/>
<rect y="259.60" fill="#7ea0ca"/>
<rect y="260.60" fill="#789cc8"/>
<rect y="261.60" fill="#5981b4"/>
<rect y="262.60" fill="#648abb"/>
<rect y="263.60" fill="#91aed2"/>
<rect y="264.60" fill="#94b1d3"/>
<rect y="265.60" fill="#a1bad9"/>
<rect y="266.60" fill="#cad8e9"/>
<rect y="267.60" fill="#ccdaea"/>
<rect y="268.60" fill="#567eb2"/>
<rect y="269.60" fill="#537cb0"/>
<rect y="270.60" fill="#5b83b5"/>
<rect y="271.60" fill="#85a5cd"/>
<rect y="272.60" fill="#8eacd1"/>
<rect y="273.60" fill="#92afd3"/>
<rect y="274.60" fill="#9db7d7"/>
</g>
<g transform="translate(150.00 0)">
<rect y="46.60" fill="#ca5562"/>
<rect y="47.60" fill="#dd767e"/>
<rect y="48.60" fill="#d46771"/>
<rect y="49.60" fill="#ca5461"/>
<rect y="50.60" fill="#cb5663"/>
<rect y="51.60" fill="#d2636e"/>
<rect y="52.60" fill="#cf5e6a"/>
<rect y="53.60" fill="#cb5764"/>
<rect y="54.60" fill="#c7505e"/>
<rect y="55.60" fill="#dc757d"/>
<rect y="56.60" fill="#b12a3d"/>
<rect y="57.60" fill="#d56973"/>
<rect y="58.60" fill="#ca5562"/>
<rect y="59.60" fill="#ca5461"/>
<rect y="60.60" fill="#d46771"/>
<rect y="61.60" fill="#d96e78"/>
<rect y="62.60" fill="#d36570"/>
<rect y="63.60" fill="#d3646f"/>
<rect y="64.60" fill="#d3646f"/>
<rect y="65.60" fill="#c34857"/>
<rect y="66.60" fill="#d05f6a"/>
<rect y="67.60" fill="#c8515f"/>
<rect y="68.60" fill="#d56973"/>
<rect y="69.60" fill="#ca5461"/>
<rect y="70.60" fill="#d2646f"/>
<rect y="71.60" fill="#e5969c"/>
<rect y="72.60" fill="#e38b92"/>
<rect y="73.60" fill="#e1838a"/>
<rect y="74.60" fill="#c24655"/>
<rect y="75.60" fill="#db727b"/>
<rect y="76.60" fill="#d96f79"/>
<rect y="77.60" fill="#cb5663"/>
<rect y="78.60" fill="#c24756"/>
<rect y="79.60" fill="#dc747c"/>
<rect y="80.60" fill="#dd767e"/>
<rect y="81.60" fill="#c95260"/>
<rect y="82.60" fill="#e08188"/>
<rect y="83.60" fill="#e1838b"/>
<rect y="84.60" fill="#de7981"/>
<rect y="85.60" fill="#bd3d4e"/>
<rect y="86.60" fill="#d66973"/>
<rect y="87.60" fill="#d76b75"/>
<rect y="88.60" fill="#d76b75"/>
<rect y="89.60" fill="#e1858d"/>
<rect y="90.60" fill="#ae2438"/>
<rect y="91.60" fill="#d0606b"/>
<rect y="92.60" fill="#cd5b67"/>
<rect y="93.60" fill="#cc5865"/>
<rect y="94.60" fill="#cf5e69"/>
<rect y="95.60" fill="#d46670"/>
<rect y="96.60" fill="#ca5562"/>
<rect y="97.60" fill="#c8515e"/>
<rect y="98.60" fill="#c64e5c"/>
<rect y="99.60" fill="#ce5b67"/>
<rect y="100.60" fill="#d36570"/>
<rect y="101.60" fill="#bd3f4f"/>
<rect y="102.60" fill="#c14554"/>
<rect y="103.60" fill="#d56872"/>
<rect y="104.60" fill="#edb7bb"/>
<rect y="105.60" fill="#ecb1b6"/>
<rect y="106.60" fill="#eaa8ad"/>
<rect y="107.60" fill="#d0606b"/>
<rect y="108.60" fill="#e89fa5"/>
<rect y="109.60" fill="#eaa8ad"/>
<rect y="110.60" fill="#c7505e"/>
<rect y="111.60" fill="#e8a2a8"/>
<rect y="112.60" fill="#e8a0a6"/>
<rect y="113.60" fill="#ecb1b5"/>
<rect y="114.60" fill="#e8a0a6"/>
<rect y="115.60" fill="#da7079"/>
<rect y="116.60" fill="#dd767e"/>
<rect y="117.60" fill="#dc747d"/>
<rect y="118.60" fill="#da717a"/>
<rect y="119.60" fill="#d76b75"/>
<rect y="120.60" fill="#d76c76"/>
<rect y="121.60" fill="#e1848b"/>
<rect y="122.60" fill="#e08189"/>
<rect y="123.60" fill="#e6989e"/>
<rect y="124.60" fill="#e69aa0"/>
<rect y="125.60" fill="#e1868d"/>
<rect y="126.60" fill="#e8a3a8"/>
<rect y="127.60" fill="#ca5562"/>
<rect y="128.60" fill="#d1626d"/>
<rect y="129.60" fill="#d3646f"/>
<rect y="130.60" fill="#df7c84"/>
<rect y="131.60" fill="#e6999f"/>
<rect y="132.60" fill="#799dc8"/>
<rect y="133.60" fill="#7296c4"/>
<rect y="134.60" fill="#7c9fca"/>
<rect y="135.60" fill="#3a66a0"/>
<rect y="136.60" fill="#4a74aa"/>
<rect y="137.60" fill="#567fb2"/>
<rect y="138.60" fill="#91aed2"/>
<rect y="139.60" fill="#4973a9"/>
<rect y="140.60" fill="#4a74aa"/>
<rect y="141.60" fill="#517aae"/>
<rect y="142.60" fill="#3b67a0"/>
<rect y="143.60" fill="#4a74aa"/>
<rect y="144.60" fill="#4b75aa"/>
<rect y="145.60" fill="#5780b3"/>
<rect y="146.60" fill="#7398c5"/>
<rect y="147.60" fill="#37649e"/>
<rect y="148.60" fill="#82a3cc"/>
<rect y="149.60" fill="#4f78ad"/>
<rect y="150.60" fill="#4d76ac"/>
<rect y="151.60" fill="#4b75ab"/>
<rect y="152.60" fill="#4a74aa"/>
<rect y="153.60" fill="#456fa7"/>
<rect y="154.60" fill="#517aae"/>
<rect y="155.60" fill="#4e78ad"/>
<rect y="156.60" fill="#83a4cc"/>
<rect y="157.60" fill="#38649e"/>
<rect y="158.60" fill="#37649e"/>
<rect y="159.60" fill="#2f5c98"/>
<rect y="160.60" fill="#39659f"/>
<rect y="161.60" fill="#4c76ab"/>
<rect y="162.60" fill="#4d77ac"/>
<rect y="163.60" fill="#5981b4"/>
<rect y="164.60" fill="#6f94c2"/>
<rect y="165.60" fill="#7498c5"/>
<rect y="166.60" fill="#7095c3"/>
<rect y="167.60" fill="#93b0d3"/>
<rect y="168.60" fill="#8fadd1"/>
<rect y="169.60" fill="#6f95c2"/>
<rect y="170.60" fill="#668dbc"/>
<rect y="171.60" fill="#678dbd"/>
<rect y="172.60" fill="#b0c5df"/>
<rect y="173.60" fill="#80a2cb"/>
<rect y="174.60" fill="#6d92c1"/>
<rect y="175.60" fill="#295794"/>
<rect y="176.60" fill="#648bbb"/>
<rect y="177.60" fill="#7297c4"/>
<rect y="178.60" fill="#33609b"/>
<rect y="179.60" fill="#33609b"/>
<rect y="180.60" fill="#7297c4"/>
<rect y="181.60" fill="#658cbc"/>
<rect y="182.60" fill="#678ebd"/>
<rect y="183.60" fill="#6a90bf"/>
<rect y="184.60" fill="#638aba"/>
<rect y="185.60" fill="#446fa6"/>
<rect y="186.60" fill="#426da5"/>
<rect y="187.60" fill="#38659f"/>
<rect y="188.60" fill="#4d77ac"/>
<rect y="189.60" fill="#769bc7"/>
<rect y="190.60" fill="#537cb0"/>
<rect y="191.60" fill="#6188b9"/>
<rect y="192.60" fill="#567fb2"/>
<rect y="193.60" fill="#769ac7"/>
<rect y="194.60" fill="#6087b8"/>
<rect y="195.60" fill="#769ac7"/>
<rect y="196.60" fill="#7196c3"/>
<rect y="197.60" fill="#789cc8"/>
<rect y="198.60" fill="#567eb2"/>
<rect y="199.60" fill="#7b9ec9"/>
<rect y="200.60" fill="#98b4d5"/>
<rect y="201.60" fill="#83a4cc"/>
<rect y="202.60" fill="#7a9ec9"/>
<rect y="203.60" fill="#789cc8"/>
<rect y="204.60" fill="#3f6aa3"/>
<rect y="205.60" fill="#5c84b6"/>
<rect y="206.60" fill="#577fb3"/>
<rect y="207.60" fill="#436ea5"/>
<rect y="208.60" fill="#4872a8"/>
<rect y="209.60" fill="#4670a7"/>
<rect y="210.60" fill="#3f6aa3"/>
<rect y="211.60" fill="#20508f"/>
<rect y="212.60" fill="#638aba"/>
<rect y="213.60" fill="#5880b3"/>
<rect y="214.60" fill="#436ea5"/>
<rect y="215.60" fill="#537cb0"/>
<rect y="216.60" fill="#1c4c8c"/>
<rect y="217.60" fill="#36639d"/>
<rect y="218.60" fill="#3d69a2"/>
<rect y="219.60" fill="#2b5996"/>
<rect y="220.60" fill="#6a90bf"/>
<rect y="221.60" fill="#6c92c0"/>
<rect y="222.60" fill="#204f8f"/>
<rect y="223.60" fill="#1c4c8c"/>
<rect y="224.60" fill="#4872a8"/>
<rect y="225.60" fill="#4b75ab"/>
<rect y="226.60" fill="#1c4c8c"/>
<rect y="227.60" fill="#1c4c8c"/>
<rect y="228.60" fill="#1e4e8d"/>
<rect y="229.60" fill="#3a66a0"/>
<rect y="230.60" fill="#567eb2"/>
<rect y="231.60" fill="#5c83b5"/>
<rect y="232.60" fill="#557db1"/>
<rect y="233.60" fill="#5f86b8"/>
<rect y="234.60" fill="#4f78ad"/>
<rect y="235.60" fill="#4d76ac"/>
<rect y="236.60" fill="#5d85b6"/>
<rect y="237.60" fill="#6a90bf"/>
<rect y="238.60" fill="#7297c4"/>
<rect y="239.60" fill="#638aba"/>
<rect y="240.60" fill="#678dbd"/>
<rect y="241.60" fill="#527baf"/>
<rect y="242.60" fill="#5780b3"/>
<rect y="243.60" fill="#5880b3"/>
<rect y="244.60" fill="#688ebe"/>
<rect y="245.60" fill="#688ebd"/>
<rect y="246.60" fill="#6d93c1"/>
<rect y="247.60" fill="#4c76ab"/>
<rect y="248.60" fill="#4570a7"/>
<rect y="249.60" fill="#4570a7"/>
<rect y="250.60" fill="#5f86b8"/>
<rect y="251.60" fill="#4c76ac"/>
<rect y="252.60" fill="#527baf"/>
<rect y="253.60" fill="#557eb1"/>
<rect y="254.60" fill="#547cb0"/>
<rect y="255.60" fill="#275593"/>
<rect y="256.60" fill="#5f86b8"/>
<rect y="257.60" fill="#638aba"/>
<rect y="258.60" fill="#6087b8"/>
<rect y="259.60" fill="#8baad0"/>
<rect y="260.60" fill="#7b9ec9"/>
<rect y="261.60" fill="#8dacd1"/>
<rect y="262.60" fill="#7095c3"/>
<rect y="263.60" fill="#5d85b7"/>
<rect y="264.60" fill="#305e99"/>
<rect y="265.60" fill="#36629d"/>
<rect y="266.60" fill="#2d5b97"/>
<rect y="267.60" fill="#35629c"/>
<rect y="268.60" fill="#35629d"/>
<rect y="269.60" fill="#5b83b5"/>
<rect y="270.60" fill="#5e85b7"/>
<rect y="271.60" fill="#5b83b5"/>
<rect y="272.60" fill="#5e86b7"/>
<rect y="273.60" fill="#6389ba"/>
<rect y="274.60" fill="#678ebd"/>
</g>
</g>
<text x="0.3" y="14.0" font-size="19.3" font-weight="bold" textLength="13.2" lengthAdjust="spacingAndGlyphs" stroke="#000" stroke-width="0.35">A</text>
<text x="39.4" y="10.6" font-size="12.6" font-weight="bold" textLength="132.7" lengthAdjust="spacingAndGlyphs">Adipocyte proteomics</text>
<text x="59.9" y="39.7" font-size="11.8" font-weight="bold" textLength="17.6" lengthAdjust="spacingAndGlyphs">WT</text>
<text x="120.7" y="39.7" font-size="11.8" font-weight="bold" textLength="35.7" lengthAdjust="spacingAndGlyphs">Atg7<tspan font-size="8" dy="-4.2">Ad</tspan></text>
<line x1="40.7" y1="43.3" x2="95.9" y2="43.3" stroke="#000" stroke-width="0.8" />
<line x1="107.2" y1="43.3" x2="162.9" y2="43.3" stroke="#000" stroke-width="0.8" />
<path d="M171 48.4H176.4V81.3H171" fill="none" stroke="#8ab61e" stroke-width="3" stroke-linejoin="round"/>
<path d="M181.1 63H196.8V60.7L202.9 65.7L196.8 70.8V68.3H181.1Z" fill="#8ab61e"/>
<path d="M171 239.6H175.7V273.4H171" fill="none" stroke="#a0a0a3" stroke-width="3" stroke-linejoin="round"/>
<path d="M181 254.2H196.9V251.2L202.6 256.5L196.9 261.8V258.7H181Z" fill="#a0a0a3"/>
<defs><linearGradient id="cbA" x1="0" y1="0" x2="0" y2="1"><stop offset="0" stop-color="#a5142a"/><stop offset="0.25" stop-color="#de7880"/><stop offset="0.5" stop-color="#fff"/><stop offset="0.75" stop-color="#789cc8"/><stop offset="1" stop-color="#1c4c8c"/></linearGradient></defs>
<rect x="172.4" y="113.9" width="8.2" height="118.2" fill="url(#cbA)" />
<text x="184.6" y="145.4" font-size="7.5" fill="#333">1</text>
<text x="184.6" y="175.8" font-size="7.5" fill="#333">0</text>
<text x="183.2" y="205.7" font-size="7.5" fill="#333">−1</text>
<text x="180" y="111.5" font-size="7.4" fill="#111" transform="rotate(-90 180 111.5)" textLength="23.6" lengthAdjust="spacingAndGlyphs">Log<tspan font-size="4.5" dy="1.2">2</tspan><tspan dy="-1.2"> FC</tspan></text>
<text x="231.2" y="14.2" font-size="19.3" font-weight="bold" textLength="11.9" lengthAdjust="spacingAndGlyphs" stroke="#000" stroke-width="0.35">B</text>
<rect x="226.8" y="49.2" width="211.6" height="73.6" fill="#eaf0d7" />
<rect x="444.3" y="20.4" width="119.4" height="6.4" fill="#8cb81c" />
<line x1="440.3" y1="23.6" x2="444.3" y2="23.6" stroke="#000" stroke-width="0.9" />
<text x="436.8" y="26.3" font-size="8.0" font-weight="bold" text-anchor="end" fill="#111">response to oxidative stress</text>
<text x="565.9" y="26.6" font-size="8.6">57</text>
<rect x="444.3" y="31.1" width="90.5" height="6.4" fill="#8cb81c" />
<line x1="440.3" y1="34.3" x2="444.3" y2="34.3" stroke="#000" stroke-width="0.9" />
<text x="436.8" y="37.0" font-size="8.0" font-weight="bold" text-anchor="end" fill="#111">wound healing</text>
<text x="537.0" y="37.8" font-size="8.6">49</text>
<rect x="444.3" y="41.1" width="89.4" height="6.4" fill="#8cb81c" />
<line x1="440.3" y1="44.3" x2="444.3" y2="44.3" stroke="#000" stroke-width="0.9" />
<text x="436.8" y="47.0" font-size="8.0" font-weight="bold" text-anchor="end" fill="#111">cellular response to oxidative stress</text>
<text x="535.9" y="47.8" font-size="8.6">40</text>
<rect x="444.3" y="51.2" width="59.4" height="6.4" fill="#8cb81c" />
<line x1="440.3" y1="54.4" x2="444.3" y2="54.4" stroke="#000" stroke-width="0.9" />
<text x="436.8" y="57.1" font-size="8.0" font-weight="bold" text-anchor="end" fill="#222">nucleoside triphosphate metabolic process</text>
<text x="519.4" y="58.5" font-size="8.6">34</text>
<rect x="444.3" y="61.5" width="56.9" height="6.4" fill="#8cb81c" />
<line x1="440.3" y1="64.7" x2="444.3" y2="64.7" stroke="#000" stroke-width="0.9" />
<text x="436.8" y="67.4" font-size="8.0" font-weight="bold" text-anchor="end" fill="#222">purine nucleoside triphosphate metabolic process</text>
<text x="519.4" y="68.8" font-size="8.6">32</text>
<rect x="444.3" y="71.5" width="56.9" height="6.4" fill="#8cb81c" />
<line x1="440.3" y1="74.7" x2="444.3" y2="74.7" stroke="#000" stroke-width="0.9" />
<text x="436.8" y="77.4" font-size="8.0" font-weight="bold" text-anchor="end" fill="#222">ribonucleoside triphosphate metabolic process</text>
<text x="519.4" y="78.8" font-size="8.6">32</text>
<rect x="444.3" y="81.9" width="54.4" height="6.4" fill="#8cb81c" />
<line x1="440.3" y1="85.1" x2="444.3" y2="85.1" stroke="#000" stroke-width="0.9" />
<text x="436.8" y="87.8" font-size="8.0" font-weight="bold" text-anchor="end" fill="#222">purine ribonucleoside triphosphate metabolic process</text>
<text x="519.4" y="89.2" font-size="8.6">31</text>
<rect x="444.3" y="91.9" width="50.1" height="6.4" fill="#8cb81c" />
<line x1="440.3" y1="95.1" x2="444.3" y2="95.1" stroke="#000" stroke-width="0.9" />
<text x="436.8" y="97.8" font-size="8.0" font-weight="bold" text-anchor="end" fill="#222">ATP metabolic process</text>
<text x="519.4" y="99.2" font-size="8.6">28</text>
<rect x="444.3" y="101.9" width="48.3" height="6.4" fill="#8cb81c" />
<line x1="440.3" y1="105.1" x2="444.3" y2="105.1" stroke="#000" stroke-width="0.9" />
<text x="436.8" y="107.8" font-size="8.0" font-weight="bold" text-anchor="end" fill="#222">ribose phosphate metabolic process</text>
<text x="519.4" y="109.2" font-size="8.6">44</text>
<rect x="444.3" y="112.0" width="41.5" height="6.4" fill="#8cb81c" />
<line x1="440.3" y1="115.2" x2="444.3" y2="115.2" stroke="#000" stroke-width="0.9" />
<text x="436.8" y="117.9" font-size="8.0" font-weight="bold" text-anchor="end" fill="#222">purine ribonucleotide metabolic process</text>
<text x="519.4" y="119.3" font-size="8.6">40</text>
<text x="598.8" y="118.0" font-size="8.9" font-weight="bold" text-anchor="end" fill="#8cb81c">upregulated</text>
<line x1="444.3" y1="19.0" x2="444.3" y2="122.3" stroke="#000" stroke-width="1" />
<line x1="443.8" y1="121.8" x2="603.4" y2="121.8" stroke="#000" stroke-width="1" />
<line x1="444.3" y1="121.8" x2="444.3" y2="126.0" stroke="#000" stroke-width="1" />
<text x="444.3" y="135.6" font-size="8.2" font-weight="bold" text-anchor="middle">0</text>
<line x1="454.9" y1="121.8" x2="454.9" y2="124.0" stroke="#000" stroke-width="0.8" />
<line x1="465.4" y1="121.8" x2="465.4" y2="124.0" stroke="#000" stroke-width="0.8" />
<line x1="476.0" y1="121.8" x2="476.0" y2="124.0" stroke="#000" stroke-width="0.8" />
<line x1="486.5" y1="121.8" x2="486.5" y2="124.0" stroke="#000" stroke-width="0.8" />
<line x1="497.1" y1="121.8" x2="497.1" y2="126.0" stroke="#000" stroke-width="1" />
<text x="497.1" y="135.6" font-size="8.2" font-weight="bold" text-anchor="middle">5</text>
<line x1="507.7" y1="121.8" x2="507.7" y2="124.0" stroke="#000" stroke-width="0.8" />
<line x1="518.2" y1="121.8" x2="518.2" y2="124.0" stroke="#000" stroke-width="0.8" />
<line x1="528.8" y1="121.8" x2="528.8" y2="124.0" stroke="#000" stroke-width="0.8" />
<line x1="539.3" y1="121.8" x2="539.3" y2="124.0" stroke="#000" stroke-width="0.8" />
<line x1="549.9" y1="121.8" x2="549.9" y2="126.0" stroke="#000" stroke-width="1" />
<text x="549.9" y="135.6" font-size="8.2" font-weight="bold" text-anchor="middle">10</text>
<line x1="560.5" y1="121.8" x2="560.5" y2="124.0" stroke="#000" stroke-width="0.8" />
<line x1="571.0" y1="121.8" x2="571.0" y2="124.0" stroke="#000" stroke-width="0.8" />
<line x1="581.6" y1="121.8" x2="581.6" y2="124.0" stroke="#000" stroke-width="0.8" />
<line x1="592.1" y1="121.8" x2="592.1" y2="124.0" stroke="#000" stroke-width="0.8" />
<line x1="602.7" y1="121.8" x2="602.7" y2="126.0" stroke="#000" stroke-width="1" />
<text x="602.7" y="135.6" font-size="8.2" font-weight="bold" text-anchor="middle">15</text>
<text x="523.5" y="147.2" font-size="8.8" font-weight="bold" text-anchor="middle" fill="#1a1a1a">-log<tspan font-size="6.6" dy="1.8">10</tspan><tspan dy="-1.8">(p</tspan><tspan font-size="6.6" dy="1.8">adjust</tspan><tspan dy="-1.8">)</tspan></text>
<text x="230.5" y="170.1" font-size="19.3" font-weight="bold" textLength="12.6" lengthAdjust="spacingAndGlyphs" stroke="#000" stroke-width="0.35">C</text>
<rect x="447.0" y="175.2" width="174.8" height="9.6" fill="#ececec" />
<rect x="447.0" y="195.2" width="174.8" height="9.7" fill="#ececec" />
<rect x="447.0" y="215.6" width="174.8" height="9.7" fill="#ececec" />
<rect x="447.0" y="236.2" width="174.8" height="29.7" fill="#ececec" />
<rect x="310.0" y="166.6" width="134.0" height="6.4" fill="#a8a8ab" />
<line x1="444.0" y1="169.8" x2="448.0" y2="169.8" stroke="#000" stroke-width="0.9" />
<text x="450.8" y="172.5" font-size="8.0" font-weight="bold" fill="#111">generation of precursor metabolites and energy</text>
<text x="309.3" y="172.7" font-size="8.7" text-anchor="end">128</text>
<rect x="330.8" y="177.0" width="113.2" height="6.4" fill="#a8a8ab" />
<line x1="444.0" y1="180.2" x2="448.0" y2="180.2" stroke="#000" stroke-width="0.9" />
<text x="450.8" y="182.9" font-size="8.0" font-weight="bold" fill="#3a3a3a">purine nucleotide metabolic process</text>
<text x="308.3" y="183.1" font-size="8.7">116</text>
<rect x="331.8" y="187.1" width="112.2" height="6.4" fill="#a8a8ab" />
<line x1="444.0" y1="190.3" x2="448.0" y2="190.3" stroke="#000" stroke-width="0.9" />
<text x="450.8" y="193.0" font-size="8.0" font-weight="bold" fill="#111">lipid catabolic process</text>
<text x="308.3" y="193.2" font-size="8.7">99</text>
<rect x="333.2" y="197.2" width="110.8" height="6.4" fill="#a8a8ab" />
<line x1="444.0" y1="200.4" x2="448.0" y2="200.4" stroke="#000" stroke-width="0.9" />
<text x="450.8" y="203.1" font-size="8.0" font-weight="bold" fill="#3a3a3a">ribonucleotide metabolic process</text>
<text x="308.3" y="203.3" font-size="8.7">114</text>
<rect x="334.5" y="207.6" width="109.5" height="6.4" fill="#a8a8ab" />
<line x1="444.0" y1="210.8" x2="448.0" y2="210.8" stroke="#000" stroke-width="0.9" />
<text x="450.8" y="213.5" font-size="8.0" font-weight="bold" fill="#111">cellular respiration</text>
<text x="308.3" y="213.7" font-size="8.7">83</text>
<rect x="362.0" y="217.7" width="82.0" height="6.4" fill="#a8a8ab" />
<line x1="444.0" y1="220.9" x2="448.0" y2="220.9" stroke="#000" stroke-width="0.9" />
<text x="450.8" y="223.6" font-size="8.0" font-weight="bold" fill="#3a3a3a">purine nucleotide biosynthetic process</text>
<text x="308.3" y="223.8" font-size="8.7">68</text>
<rect x="363.7" y="227.7" width="80.3" height="6.4" fill="#a8a8ab" />
<line x1="444.0" y1="230.9" x2="448.0" y2="230.9" stroke="#000" stroke-width="0.9" />
<text x="450.8" y="233.6" font-size="8.0" font-weight="bold" fill="#111">fatty acid beta-oxidation</text>
<text x="308.3" y="233.8" font-size="8.7">41</text>
<rect x="366.7" y="237.8" width="77.3" height="6.4" fill="#a8a8ab" />
<line x1="444.0" y1="241.0" x2="448.0" y2="241.0" stroke="#000" stroke-width="0.9" />
<text x="450.8" y="243.7" font-size="8.0" font-weight="bold" fill="#3a3a3a">nucleoside phosphate biosynthetic process</text>
<text x="308.3" y="243.9" font-size="8.7">74</text>
<rect x="384.5" y="247.9" width="59.5" height="6.4" fill="#a8a8ab" />
<line x1="444.0" y1="251.1" x2="448.0" y2="251.1" stroke="#000" stroke-width="0.9" />
<text x="450.8" y="253.8" font-size="8.0" font-weight="bold" fill="#3a3a3a">ATP synthesis coupled electron transport</text>
<text x="308.3" y="254.0" font-size="8.7">34</text>
<rect x="385.9" y="258.3" width="58.1" height="6.4" fill="#a8a8ab" />
<line x1="444.0" y1="261.5" x2="448.0" y2="261.5" stroke="#000" stroke-width="0.9" />
<text x="450.8" y="264.2" font-size="8.0" font-weight="bold" fill="#3a3a3a">ATP metabolic process</text>
<text x="308.3" y="264.4" font-size="8.7">59</text>
<text x="236.0" y="262.8" font-size="8.9" font-weight="bold" fill="#a0a0a0" textLength="63.2" lengthAdjust="spacingAndGlyphs">downregulated</text>
<line x1="444.0" y1="163.5" x2="444.0" y2="268.0" stroke="#000" stroke-width="1" />
<line x1="284.3" y1="267.5" x2="444.5" y2="267.5" stroke="#000" stroke-width="1" />
<line x1="444.0" y1="267.5" x2="444.0" y2="271.6" stroke="#000" stroke-width="1" />
<text x="444.0" y="281.9" font-size="8.2" font-weight="bold" text-anchor="middle">0</text>
<line x1="412.2" y1="267.5" x2="412.2" y2="271.6" stroke="#000" stroke-width="1" />
<text x="412.2" y="281.9" font-size="8.2" font-weight="bold" text-anchor="middle">10</text>
<line x1="380.4" y1="267.5" x2="380.4" y2="271.6" stroke="#000" stroke-width="1" />
<text x="380.4" y="281.9" font-size="8.2" font-weight="bold" text-anchor="middle">20</text>
<line x1="348.6" y1="267.5" x2="348.6" y2="271.6" stroke="#000" stroke-width="1" />
<text x="348.6" y="281.9" font-size="8.2" font-weight="bold" text-anchor="middle">30</text>
<line x1="316.8" y1="267.5" x2="316.8" y2="271.6" stroke="#000" stroke-width="1" />
<text x="316.8" y="281.9" font-size="8.2" font-weight="bold" text-anchor="middle">40</text>
<line x1="285.0" y1="267.5" x2="285.0" y2="271.6" stroke="#000" stroke-width="1" />
<text x="285.0" y="281.9" font-size="8.2" font-weight="bold" text-anchor="middle">50</text>
<text x="365.2" y="294.0" font-size="8.8" font-weight="bold" text-anchor="middle" fill="#1a1a1a">-log<tspan font-size="6.6" dy="1.8">10</tspan><tspan dy="-1.8">(p</tspan><tspan font-size="6.6" dy="1.8">adjust</tspan><tspan dy="-1.8">)</tspan></text>
<text x="0.5" y="327.8" font-size="19.3" font-weight="bold" textLength="13.2" lengthAdjust="spacingAndGlyphs" stroke="#000" stroke-width="0.35">D</text>
<text x="40.6" y="333.8" font-size="12.6" font-weight="bold" textLength="150.1" lengthAdjust="spacingAndGlyphs">Adipocyte metabolomics</text>
<text x="78.2" y="364.9" font-size="11.8" font-weight="bold" textLength="17.6" lengthAdjust="spacingAndGlyphs">WT</text>
<text x="116.5" y="364.9" font-size="11.8" font-weight="bold" textLength="36.3" lengthAdjust="spacingAndGlyphs">Atg7<tspan font-size="8" dy="-4.2">Ad</tspan></text>
<line x1="68.3" y1="368.3" x2="104.4" y2="368.3" stroke="#000" stroke-width="0.8" />
<line x1="114.0" y1="368.3" x2="149.0" y2="368.3" stroke="#000" stroke-width="0.8" />
<rect x="64.5" y="373.6" width="15.2" height="12.3" fill="#b3b3dd" />
<rect x="79.4" y="373.6" width="15.2" height="12.3" fill="#6060b8" />
<rect x="94.4" y="373.6" width="15.2" height="12.3" fill="#b0b0dc" />
<rect x="109.3" y="373.6" width="15.2" height="12.3" fill="#f3cfcf" />
<rect x="124.2" y="373.6" width="15.2" height="12.3" fill="#c43a3a" />
<rect x="139.2" y="373.6" width="15.2" height="12.3" fill="#f8eaea" />
<rect x="64.5" y="385.6" width="15.2" height="12.3" fill="#9a9ad0" />
<rect x="79.4" y="385.6" width="15.2" height="12.3" fill="#9090cc" />
<rect x="94.4" y="385.6" width="15.2" height="12.3" fill="#7070c0" />
<rect x="109.3" y="385.6" width="15.2" height="12.3" fill="#dc8080" />
<rect x="124.2" y="385.6" width="15.2" height="12.3" fill="#cc5050" />
<rect x="139.2" y="385.6" width="15.2" height="12.3" fill="#f8e8e8" />
<rect x="64.5" y="397.5" width="15.2" height="12.3" fill="#8080c8" />
<rect x="79.4" y="397.5" width="15.2" height="12.3" fill="#9090cc" />
<rect x="94.4" y="397.5" width="15.2" height="12.3" fill="#b0b0dc" />
<rect x="109.3" y="397.5" width="15.2" height="12.3" fill="#c03030" />
<rect x="124.2" y="397.5" width="15.2" height="12.3" fill="#faf0f0" />
<rect x="139.2" y="397.5" width="15.2" height="12.3" fill="#f4d4d4" />
<rect x="64.5" y="409.5" width="15.2" height="12.3" fill="#c0c0e4" />
<rect x="79.4" y="409.5" width="15.2" height="12.3" fill="#5050b0" />
<rect x="94.4" y="409.5" width="15.2" height="12.3" fill="#8080c8" />
<rect x="109.3" y="409.5" width="15.2" height="12.3" fill="#d87070" />
<rect x="124.2" y="409.5" width="15.2" height="12.3" fill="#e8a0a0" />
<rect x="139.2" y="409.5" width="15.2" height="12.3" fill="#e09090" />
<rect x="64.5" y="421.4" width="15.2" height="12.3" fill="#f0c8c8" />
<rect x="79.4" y="421.4" width="15.2" height="12.3" fill="#ffffff" />
<rect x="94.4" y="421.4" width="15.2" height="12.3" fill="#c03030" />
<rect x="109.3" y="421.4" width="15.2" height="12.3" fill="#a0a0d4" />
<rect x="124.2" y="421.4" width="15.2" height="12.3" fill="#9c9cd2" />
<rect x="139.2" y="421.4" width="15.2" height="12.3" fill="#8888ca" />
<rect x="64.5" y="433.4" width="15.2" height="12.3" fill="#ffffff" />
<rect x="79.4" y="433.4" width="15.2" height="12.3" fill="#d05858" />
<rect x="94.4" y="433.4" width="15.2" height="12.3" fill="#e08888" />
<rect x="109.3" y="433.4" width="15.2" height="12.3" fill="#c0c0e4" />
<rect x="124.2" y="433.4" width="15.2" height="12.3" fill="#9090cc" />
<rect x="139.2" y="433.4" width="15.2" height="12.3" fill="#7070c0" />
<rect x="64.5" y="445.3" width="15.2" height="12.3" fill="#e8a0a0" />
<rect x="79.4" y="445.3" width="15.2" height="12.3" fill="#e09090" />
<rect x="94.4" y="445.3" width="15.2" height="12.3" fill="#e8a8a8" />
<rect x="109.3" y="445.3" width="15.2" height="12.3" fill="#d8d8f0" />
<rect x="124.2" y="445.3" width="15.2" height="12.3" fill="#2828a0" />
<rect x="139.2" y="445.3" width="15.2" height="12.3" fill="#9c9cd2" />
<rect x="64.5" y="457.3" width="15.2" height="12.3" fill="#e09898" />
<rect x="79.4" y="457.3" width="15.2" height="12.3" fill="#d87070" />
<rect x="94.4" y="457.3" width="15.2" height="12.3" fill="#f0d0d0" />
<rect x="109.3" y="457.3" width="15.2" height="12.3" fill="#c8c8e8" />
<rect x="124.2" y="457.3" width="15.2" height="12.3" fill="#6868bc" />
<rect x="139.2" y="457.3" width="15.2" height="12.3" fill="#7878c4" />
<rect x="64.5" y="469.2" width="15.2" height="12.3" fill="#f0c8c8" />
<rect x="79.4" y="469.2" width="15.2" height="12.3" fill="#d87070" />
<rect x="94.4" y="469.2" width="15.2" height="12.3" fill="#e09090" />
<rect x="109.3" y="469.2" width="15.2" height="12.3" fill="#8080c8" />
<rect x="124.2" y="469.2" width="15.2" height="12.3" fill="#c8c8e8" />
<rect x="139.2" y="469.2" width="15.2" height="12.3" fill="#5050b0" />
<text x="157.3" y="383.4" font-size="9.0" fill="#111">Xanthine</text>
<text x="157.3" y="394.5" font-size="9.0" fill="#111">C</text>
<text x="157.3" y="407.2" font-size="9.0" fill="#111">U</text>
<text x="157.3" y="419.7" font-size="9.0" fill="#111">G</text>
<text x="157.3" y="431.8" font-size="9.0" fill="#111">dA</text>
<text x="157.3" y="443.5" font-size="9.0" fill="#111">A</text>
<text x="157.3" y="454.9" font-size="9.0" fill="#111">AMP</text>
<text x="157.3" y="467.0" font-size="9.0" fill="#111">UMP</text>
<text x="157.3" y="479.4" font-size="9.0" fill="#111">Rib</text>
<defs><linearGradient id="cbD" x1="0" y1="0" x2="0" y2="1"><stop offset="0" stop-color="#c84040"/><stop offset="0.5" stop-color="#fff"/><stop offset="1" stop-color="#3838a8"/></linearGradient></defs>
<rect x="37.6" y="389.3" width="5.0" height="78.4" fill="url(#cbD)" />
<text x="45.3" y="397.4" font-size="5.6" fill="#222">1.5</text>
<text x="45.3" y="408.1" font-size="5.6" fill="#222">1</text>
<text x="45.3" y="419.5" font-size="5.6" fill="#222">0.5</text>
<text x="45.3" y="430.6" font-size="5.6" fill="#222">0</text>
<text x="45.3" y="441.7" font-size="5.6" fill="#222">-0.5</text>
<text x="45.3" y="452.8" font-size="5.6" fill="#222">-1</text>
<text x="45.3" y="463.9" font-size="5.6" fill="#222">-1.5</text>
<text x="42.4" y="385.8" font-size="6.9" fill="#222" transform="rotate(-90 42.4 385.8)">z-Score</text>
<text x="226.6" y="328.5" font-size="19.3" font-weight="bold" textLength="9.4" lengthAdjust="spacingAndGlyphs" stroke="#000" stroke-width="0.5">E</text>
<text x="253.9" y="334.2" font-size="12.6" font-weight="bold" textLength="133.1" lengthAdjust="spacingAndGlyphs">Adipocyte proteomics</text>
<text x="264.0" y="363.5" font-size="11.8" font-weight="bold" textLength="17.6" lengthAdjust="spacingAndGlyphs">WT</text>
<text x="303.2" y="363.5" font-size="11.8" font-weight="bold" textLength="35.6" lengthAdjust="spacingAndGlyphs">Atg7<tspan font-size="8" dy="-4.2">Ad</tspan></text>
<line x1="254.5" y1="367.0" x2="289.5" y2="367.0" stroke="#000" stroke-width="0.8" />
<line x1="300.0" y1="367.0" x2="334.7" y2="367.0" stroke="#000" stroke-width="0.8" />
<rect x="248.9" y="372.1" width="11.7" height="9.7" fill="#d0d0ea" />
<rect x="260.3" y="372.1" width="11.7" height="9.7" fill="#e0e0f2" />
<rect x="271.7" y="372.1" width="11.7" height="9.7" fill="#1c1c9c" />
<rect x="283.1" y="372.1" width="11.7" height="9.7" fill="#9090cc" />
<rect x="294.4" y="372.1" width="11.7" height="9.7" fill="#d86868" />
<rect x="305.8" y="372.1" width="11.7" height="9.7" fill="#e8a0a0" />
<rect x="317.2" y="372.1" width="11.7" height="9.7" fill="#eaa8a8" />
<rect x="328.6" y="372.1" width="11.7" height="9.7" fill="#f6e0e0" />
<rect x="248.9" y="381.5" width="11.7" height="9.7" fill="#d8d8ee" />
<rect x="260.3" y="381.5" width="11.7" height="9.7" fill="#e0e0f2" />
<rect x="271.7" y="381.5" width="11.7" height="9.7" fill="#2020a0" />
<rect x="283.1" y="381.5" width="11.7" height="9.7" fill="#9090cc" />
<rect x="294.4" y="381.5" width="11.7" height="9.7" fill="#dc7878" />
<rect x="305.8" y="381.5" width="11.7" height="9.7" fill="#e08888" />
<rect x="317.2" y="381.5" width="11.7" height="9.7" fill="#eaa8a8" />
<rect x="328.6" y="381.5" width="11.7" height="9.7" fill="#faf4f8" />
<rect x="248.9" y="390.9" width="11.7" height="9.7" fill="#a8a8d8" />
<rect x="260.3" y="390.9" width="11.7" height="9.7" fill="#d0d0ea" />
<rect x="271.7" y="390.9" width="11.7" height="9.7" fill="#2020a0" />
<rect x="283.1" y="390.9" width="11.7" height="9.7" fill="#8888c8" />
<rect x="294.4" y="390.9" width="11.7" height="9.7" fill="#e49898" />
<rect x="305.8" y="390.9" width="11.7" height="9.7" fill="#e49898" />
<rect x="317.2" y="390.9" width="11.7" height="9.7" fill="#e49898" />
<rect x="328.6" y="390.9" width="11.7" height="9.7" fill="#eeb8b8" />
<rect x="248.9" y="400.3" width="11.7" height="9.7" fill="#f0f0f8" />
<rect x="260.3" y="400.3" width="11.7" height="9.7" fill="#eaa8a8" />
<rect x="271.7" y="400.3" width="11.7" height="9.7" fill="#2828a0" />
<rect x="283.1" y="400.3" width="11.7" height="9.7" fill="#3838a8" />
<rect x="294.4" y="400.3" width="11.7" height="9.7" fill="#f0c0c0" />
<rect x="305.8" y="400.3" width="11.7" height="9.7" fill="#faf0f0" />
<rect x="317.2" y="400.3" width="11.7" height="9.7" fill="#eaa8a8" />
<rect x="328.6" y="400.3" width="11.7" height="9.7" fill="#e8a0a0" />
<rect x="248.9" y="409.7" width="11.7" height="9.7" fill="#d05858" />
<rect x="260.3" y="409.7" width="11.7" height="9.7" fill="#e08080" />
<rect x="271.7" y="409.7" width="11.7" height="9.7" fill="#f4d0d0" />
<rect x="283.1" y="409.7" width="11.7" height="9.7" fill="#f0c8c8" />
<rect x="294.4" y="409.7" width="11.7" height="9.7" fill="#6868bc" />
<rect x="305.8" y="409.7" width="11.7" height="9.7" fill="#7878c4" />
<rect x="317.2" y="409.7" width="11.7" height="9.7" fill="#5858b4" />
<rect x="328.6" y="409.7" width="11.7" height="9.7" fill="#fdfdfd" />
<rect x="248.9" y="419.1" width="11.7" height="9.7" fill="#d05050" />
<rect x="260.3" y="419.1" width="11.7" height="9.7" fill="#eeb8b8" />
<rect x="271.7" y="419.1" width="11.7" height="9.7" fill="#eaa8a8" />
<rect x="283.1" y="419.1" width="11.7" height="9.7" fill="#eeb0b0" />
<rect x="294.4" y="419.1" width="11.7" height="9.7" fill="#9090cc" />
<rect x="305.8" y="419.1" width="11.7" height="9.7" fill="#6868bc" />
<rect x="317.2" y="419.1" width="11.7" height="9.7" fill="#5858b4" />
<rect x="328.6" y="419.1" width="11.7" height="9.7" fill="#b8b8e0" />
<rect x="248.9" y="428.5" width="11.7" height="9.7" fill="#8080c8" />
<rect x="260.3" y="428.5" width="11.7" height="9.7" fill="#9898d0" />
<rect x="271.7" y="428.5" width="11.7" height="9.7" fill="#5858b4" />
<rect x="283.1" y="428.5" width="11.7" height="9.7" fill="#a8a8d8" />
<rect x="294.4" y="428.5" width="11.7" height="9.7" fill="#f4d0d0" />
<rect x="305.8" y="428.5" width="11.7" height="9.7" fill="#f8e0e0" />
<rect x="317.2" y="428.5" width="11.7" height="9.7" fill="#cc4848" />
<rect x="328.6" y="428.5" width="11.7" height="9.7" fill="#e08080" />
<rect x="248.9" y="437.9" width="11.7" height="9.7" fill="#c0c0e4" />
<rect x="260.3" y="437.9" width="11.7" height="9.7" fill="#c0c0e4" />
<rect x="271.7" y="437.9" width="11.7" height="9.7" fill="#2828a0" />
<rect x="283.1" y="437.9" width="11.7" height="9.7" fill="#9898d0" />
<rect x="294.4" y="437.9" width="11.7" height="9.7" fill="#e08080" />
<rect x="305.8" y="437.9" width="11.7" height="9.7" fill="#e49898" />
<rect x="317.2" y="437.9" width="11.7" height="9.7" fill="#e49090" />
<rect x="328.6" y="437.9" width="11.7" height="9.7" fill="#f8e0e0" />
<rect x="248.9" y="447.2" width="11.7" height="9.7" fill="#e08080" />
<rect x="260.3" y="447.2" width="11.7" height="9.7" fill="#e08080" />
<rect x="271.7" y="447.2" width="11.7" height="9.7" fill="#e8a0a0" />
<rect x="283.1" y="447.2" width="11.7" height="9.7" fill="#faf0f0" />
<rect x="294.4" y="447.2" width="11.7" height="9.7" fill="#fdfdfd" />
<rect x="305.8" y="447.2" width="11.7" height="9.7" fill="#2828a0" />
<rect x="317.2" y="447.2" width="11.7" height="9.7" fill="#4040ac" />
<rect x="328.6" y="447.2" width="11.7" height="9.7" fill="#e0e0f2" />
<rect x="248.9" y="456.6" width="11.7" height="9.7" fill="#7878c4" />
<rect x="260.3" y="456.6" width="11.7" height="9.7" fill="#d8d8ee" />
<rect x="271.7" y="456.6" width="11.7" height="9.7" fill="#4040ac" />
<rect x="283.1" y="456.6" width="11.7" height="9.7" fill="#c0c0e4" />
<rect x="294.4" y="456.6" width="11.7" height="9.7" fill="#c43838" />
<rect x="305.8" y="456.6" width="11.7" height="9.7" fill="#f0c0c0" />
<rect x="317.2" y="456.6" width="11.7" height="9.7" fill="#f8e8e8" />
<rect x="328.6" y="456.6" width="11.7" height="9.7" fill="#f0c8c8" />
<rect x="248.9" y="466.0" width="11.7" height="9.7" fill="#4848b0" />
<rect x="260.3" y="466.0" width="11.7" height="9.7" fill="#8080c8" />
<rect x="271.7" y="466.0" width="11.7" height="9.7" fill="#c0c0e4" />
<rect x="283.1" y="466.0" width="11.7" height="9.7" fill="#9898d0" />
<rect x="294.4" y="466.0" width="11.7" height="9.7" fill="#e08080" />
<rect x="305.8" y="466.0" width="11.7" height="9.7" fill="#f8e8e8" />
<rect x="317.2" y="466.0" width="11.7" height="9.7" fill="#d86868" />
<rect x="328.6" y="466.0" width="11.7" height="9.7" fill="#e8a8a8" />
<rect x="248.9" y="475.4" width="11.7" height="9.7" fill="#4848b0" />
<rect x="260.3" y="475.4" width="11.7" height="9.7" fill="#9898d0" />
<rect x="271.7" y="475.4" width="11.7" height="9.7" fill="#b0b0dc" />
<rect x="283.1" y="475.4" width="11.7" height="9.7" fill="#9898d0" />
<rect x="294.4" y="475.4" width="11.7" height="9.7" fill="#f0b8b8" />
<rect x="305.8" y="475.4" width="11.7" height="9.7" fill="#d05050" />
<rect x="317.2" y="475.4" width="11.7" height="9.7" fill="#e8a0a0" />
<rect x="328.6" y="475.4" width="11.7" height="9.7" fill="#f4d0d0" />
<rect x="248.9" y="484.8" width="11.7" height="9.7" fill="#f0c0c0" />
<rect x="260.3" y="484.8" width="11.7" height="9.7" fill="#eeb0b0" />
<rect x="271.7" y="484.8" width="11.7" height="9.7" fill="#dc7070" />
<rect x="283.1" y="484.8" width="11.7" height="9.7" fill="#e8a0a0" />
<rect x="294.4" y="484.8" width="11.7" height="9.7" fill="#9898d0" />
<rect x="305.8" y="484.8" width="11.7" height="9.7" fill="#c0c0e4" />
<rect x="317.2" y="484.8" width="11.7" height="9.7" fill="#1c1c9c" />
<rect x="328.6" y="484.8" width="11.7" height="9.7" fill="#d8d8ee" />
<rect x="248.9" y="494.2" width="11.7" height="9.7" fill="#fdfdfd" />
<rect x="260.3" y="494.2" width="11.7" height="9.7" fill="#f8e0e0" />
<rect x="271.7" y="494.2" width="11.7" height="9.7" fill="#c03030" />
<rect x="283.1" y="494.2" width="11.7" height="9.7" fill="#e8a0a0" />
<rect x="294.4" y="494.2" width="11.7" height="9.7" fill="#9898d0" />
<rect x="305.8" y="494.2" width="11.7" height="9.7" fill="#8888c8" />
<rect x="317.2" y="494.2" width="11.7" height="9.7" fill="#5050b0" />
<rect x="328.6" y="494.2" width="11.7" height="9.7" fill="#f4f4fa" />
<text x="340.9" y="380.1" font-size="9.3" fill="#111">Pgd</text>
<text x="340.9" y="389.5" font-size="9.3" fill="#111">Taldo1</text>
<text x="340.9" y="398.9" font-size="9.3" fill="#111">Tkt</text>
<text x="340.9" y="408.3" font-size="9.3" fill="#111">Pgls</text>
<text x="340.9" y="417.7" font-size="9.3" fill="#111">Pgm1</text>
<text x="340.9" y="427.1" font-size="9.3" fill="#111">Prps1</text>
<text x="340.9" y="436.5" font-size="9.3" fill="#111">Adss2</text>
<text x="340.9" y="445.8" font-size="9.3" fill="#111">Ampd3</text>
<text x="340.9" y="455.2" font-size="9.3" fill="#111">Dguok</text>
<text x="340.9" y="464.6" font-size="9.3" fill="#111">Gpx1</text>
<text x="340.9" y="474.0" font-size="9.3" fill="#111">Nt5c</text>
<text x="340.9" y="483.4" font-size="9.3" fill="#111">Adar</text>
<text x="340.9" y="492.8" font-size="9.3" fill="#111">Enpp3</text>
<text x="340.9" y="502.2" font-size="9.3" fill="#111">Entpd1</text>
<path d="M376.5 373H380.6V422.6H376.5" fill="none" stroke="#111" stroke-width="1.7"/>
<path d="M376.5 430H380.6V500.7H376.5" fill="none" stroke="#111" stroke-width="1.7"/>
<text x="390.4" y="399.3" font-size="8.8" font-weight="bold" text-anchor="middle" transform="rotate(-90 390.4 399.3)">PPP</text>
<text x="391.2" y="465.2" font-size="9.2" font-weight="bold" text-anchor="middle" textLength="51.6" lengthAdjust="spacingAndGlyphs" transform="rotate(-90 391.2 465.2)">purine met.</text>
<text x="250.7" y="514.2" font-size="7.4" fill="#111" textLength="23.3" lengthAdjust="spacingAndGlyphs">Log<tspan font-size="4.5" dy="1.2">2</tspan><tspan dy="-1.2"> FC</tspan></text>
<text x="409.8" y="328.2" font-size="19.3" font-weight="bold" textLength="10.4" lengthAdjust="spacingAndGlyphs" stroke="#000" stroke-width="0.45">F</text>
<text x="461.7" y="337.2" font-size="10.8" font-weight="bold" text-anchor="middle" fill="#1a1a1a">Pentose</text>
<text x="461.7" y="350.1" font-size="10.8" font-weight="bold" text-anchor="middle" fill="#1a1a1a">phosphate</text>
<text x="461.7" y="363.0" font-size="10.8" font-weight="bold" text-anchor="middle" fill="#1a1a1a">pathway</text>
<line x1="498.5" y1="346.3" x2="521.3" y2="346.3" stroke="#a5273b" stroke-width="2.0" />
<path d="M533.8 346.3L520.8 352.6L520.8 340.1Z" fill="#a5273b"/>
<text x="542.7" y="350.6" font-size="11.1" fill="#1c1c1c">Ribose-5P</text>
<line x1="568.9" y1="364.5" x2="568.9" y2="385.0" stroke="#2c3c6c" stroke-width="1.6" />
<path d="M568.9 392.5L565.1 384.5L572.6 384.5Z" fill="#2c3c6c"/>
<text x="554.7" y="407.2" font-size="11.1" fill="#1c1c1c" textLength="29.2" lengthAdjust="spacingAndGlyphs">PRPP</text>
<line x1="568.9" y1="417.7" x2="568.9" y2="431.0" stroke="#b4c7e0" stroke-width="1.4" />
<path d="M568.9 437.5L565.6 430.5L572.1 430.5Z" fill="#b4c7e0"/>
<line x1="568.9" y1="442.7" x2="568.9" y2="455.1" stroke="#b4c7e0" stroke-width="1.4" />
<path d="M568.9 461.6L565.6 454.6L572.1 454.6Z" fill="#b4c7e0"/>
<rect x="436.8" y="380.8" width="104.6" height="47.3" fill="#fff" stroke="#c2cde2" stroke-width="2.2"/>
<circle cx="447" cy="395.3" r="7" fill="#f9dcdc"/>
<circle cx="447" cy="413.1" r="7" fill="#b1b0de"/>
<text x="459.7" y="400.2" font-size="11.3" fill="#1c1c1c">up in Atg7<tspan font-size="7.4" dy="-3.4">Ad</tspan></text>
<text x="459.9" y="419.2" font-size="11.3" fill="#1c1c1c">down in Atg7<tspan font-size="7.4" dy="-3.4">Ad</tspan></text>
<path d="M587.8 411.8C595 411.8 597.4 415 597.4 421L597.4 426C597.4 431 598.8 434 602.4 434.8C598.8 435.6 597.4 438.5 597.4 443.5L597.4 449C597.4 455 595 458 587.8 458" fill="none" stroke="#bccbe1" stroke-width="1.2"/>
<text x="629.2" y="431.6" font-size="11.1" text-anchor="middle" fill="#1c1c1c" textLength="40.5" lengthAdjust="spacingAndGlyphs">de novo</text>
<text x="629.0" y="445.3" font-size="11.1" text-anchor="middle" fill="#1c1c1c" textLength="48.7" lengthAdjust="spacingAndGlyphs">synthesis</text>
<text x="558.0" y="477.0" font-size="11.1" fill="#1c1c1c" textLength="20.0" lengthAdjust="spacingAndGlyphs">IMP</text>
<text x="582.2" y="471.7" font-size="11.1" fill="#a5273b" textLength="28.0" lengthAdjust="spacingAndGlyphs">ADSS</text>
<text x="578.4" y="496.7" font-size="11.1" fill="#a5273b" textLength="31.8" lengthAdjust="spacingAndGlyphs">AMPD</text>
<text x="484.3" y="490.2" font-size="11.1" fill="#1c1c1c" textLength="24.7" lengthAdjust="spacingAndGlyphs">GMP</text>
<line x1="552.6" y1="475.5" x2="539.7" y2="478.3" stroke="#b4c7e0" stroke-width="1.4" />
<path d="M533.4 479.7L539.5 475.0L540.9 481.4Z" fill="#b4c7e0"/>
<line x1="530.8" y1="481.2" x2="518.3" y2="484.4" stroke="#b4c7e0" stroke-width="1.4" />
<path d="M512.0 486.0L518.0 481.1L519.6 487.4Z" fill="#b4c7e0"/>
<line x1="583.0" y1="475.0" x2="597.2" y2="478.9" stroke="#a5273b" stroke-width="1.4" />
<path d="M603.5 480.6L596.0 481.6L597.5 475.9Z" fill="#a5273b"/>
<line x1="605.5" y1="481.5" x2="618.1" y2="484.6" stroke="#b4c7e0" stroke-width="1.4" />
<path d="M624.4 486.2L616.8 487.7L618.4 481.4Z" fill="#b4c7e0"/>
<line x1="619.9" y1="490.4" x2="584.6" y2="481.2" stroke="#a5273b" stroke-width="1.4" />
<path d="M578.3 479.6L585.8 478.5L584.3 484.3Z" fill="#a5273b"/>
<rect x="628.2" y="478.3" width="29.4" height="16.2" rx="8.1" fill="#a9a7dc"/>
<text x="642.9" y="490.6" font-size="11.1" text-anchor="middle" fill="#26264a" textLength="24.5" lengthAdjust="spacingAndGlyphs">AMP</text>
<text x="473.8" y="506.7" font-size="11.1" fill="#a5273b" textLength="20.2" lengthAdjust="spacingAndGlyphs">NT5</text>
<line x1="496.8" y1="494.6" x2="496.8" y2="507.7" stroke="#a5273b" stroke-width="1.4" />
<path d="M496.8 514.2L493.8 507.2L499.8 507.2Z" fill="#a5273b"/>
<rect x="467.3" y="515.5" width="57.6" height="13.4" rx="6.7" fill="#f9dcdc"/>
<text x="496.8" y="525.5" font-size="11.1" text-anchor="middle" fill="#1c1c1c" textLength="53.3" lengthAdjust="spacingAndGlyphs">guanosine</text>
<text x="471.5" y="541.9" font-size="11.1" fill="#b4c7e0" textLength="22.2" lengthAdjust="spacingAndGlyphs">PNP</text>
<line x1="496.5" y1="530.5" x2="496.5" y2="541.9" stroke="#b4c7e0" stroke-width="1.4" />
<path d="M496.5 548.4L493.2 541.4L499.8 541.4Z" fill="#b4c7e0"/>
<text x="477.0" y="561.0" font-size="11.1" fill="#1c1c1c" textLength="40.0" lengthAdjust="spacingAndGlyphs">guanine</text>
<line x1="520.2" y1="562.4" x2="539.5" y2="576.4" stroke="#b4c7e0" stroke-width="1.4" />
<path d="M544.8 580.2L537.2 578.7L541.0 573.5Z" fill="#b4c7e0"/>
<line x1="568.4" y1="480.5" x2="568.4" y2="493.5" stroke="#b4c7e0" stroke-width="1.4" />
<path d="M568.4 500.0L565.1 493.0L571.6 493.0Z" fill="#b4c7e0"/>
<text x="550.7" y="512.7" font-size="11.1" fill="#1c1c1c" textLength="36.3" lengthAdjust="spacingAndGlyphs">inosine</text>
<text x="543.9" y="530.4" font-size="11.1" fill="#b4c7e0" textLength="22.0" lengthAdjust="spacingAndGlyphs">PNP</text>
<line x1="568.4" y1="515.8" x2="568.4" y2="528.8" stroke="#b4c7e0" stroke-width="1.4" />
<path d="M568.4 535.3L565.1 528.3L571.6 528.3Z" fill="#b4c7e0"/>
<text x="535.9" y="547.1" font-size="11.1" fill="#1c1c1c" textLength="68.2" lengthAdjust="spacingAndGlyphs">hypoxanthine</text>
<text x="571.8" y="565.4" font-size="11.1" fill="#b4c7e0" textLength="14.0" lengthAdjust="spacingAndGlyphs">XO</text>
<line x1="568.4" y1="550.2" x2="568.4" y2="568.3" stroke="#b4c7e0" stroke-width="1.4" />
<path d="M568.4 574.8L565.1 567.8L571.6 567.8Z" fill="#b4c7e0"/>
<rect x="544.3" y="579.4" width="49.2" height="18.8" rx="8" fill="#f9dcdc"/>
<text x="568.9" y="593.0" font-size="11.1" text-anchor="middle" fill="#1c1c1c" textLength="43.0" lengthAdjust="spacingAndGlyphs">xanthine</text>
<text x="571.8" y="613.0" font-size="11.1" fill="#b4c7e0" textLength="14.0" lengthAdjust="spacingAndGlyphs">XO</text>
<line x1="568.4" y1="599.4" x2="568.4" y2="616.6" stroke="#b4c7e0" stroke-width="1.4" />
<path d="M568.4 623.1L565.1 616.1L571.6 616.1Z" fill="#b4c7e0"/>
<text x="547.5" y="634.9" font-size="11.1" fill="#1c1c1c" textLength="42.7" lengthAdjust="spacingAndGlyphs">uric acid</text>
<text x="619.8" y="508.2" font-size="11.1" fill="#a5273b" textLength="20.2" lengthAdjust="spacingAndGlyphs">NT5</text>
<line x1="641.0" y1="496.6" x2="641.0" y2="509.5" stroke="#a5273b" stroke-width="1.4" />
<path d="M641.0 516.0L638.0 509.0L644.0 509.0Z" fill="#a5273b"/>
<line x1="647.1" y1="515.8" x2="647.1" y2="504.5" stroke="#2c3c6c" stroke-width="1.4" />
<path d="M647.1 498.0L650.1 505.0L644.1 505.0Z" fill="#2c3c6c"/>
<rect x="617.2" y="513.8" width="56.2" height="16.2" rx="8.1" fill="#a9a7dc"/>
<text x="645.4" y="526.0" font-size="11.1" text-anchor="middle" fill="#26264a" textLength="52.4" lengthAdjust="spacingAndGlyphs">adenosine</text>
<text x="588.3" y="527.8" font-size="11.1" fill="#a5273b" textLength="21.9" lengthAdjust="spacingAndGlyphs">ADA</text>
<line x1="613.0" y1="517.8" x2="599.1" y2="514.1" stroke="#a5273b" stroke-width="1.4" />
<path d="M592.8 512.5L600.3 511.4L598.8 517.2Z" fill="#a5273b"/>
<path d="M607.1 532.9C612.5 532.9 615.7 535.5 615.7 542L615.7 572C615.7 578 617.5 581.5 621.8 583C617.5 584.5 615.7 588 615.7 594L615.7 625C615.7 631.5 612.5 634.2 607.1 634.2" fill="none" stroke="#111" stroke-width="1.25"/>
<text x="627.4" y="579.6" font-size="10.8" font-weight="bold" fill="#1a1a1a">Purine</text>
<text x="627.4" y="593.2" font-size="10.8" font-weight="bold" fill="#1a1a1a" textLength="56.2" lengthAdjust="spacingAndGlyphs">catabolism</text>
<text x="-0.5" y="552.3" font-size="19.3" font-weight="bold" textLength="14.3" lengthAdjust="spacingAndGlyphs" stroke="#000" stroke-width="0.35">G</text>
<text x="30.8" y="565.4" font-size="12.6" font-weight="bold" textLength="130.4" lengthAdjust="spacingAndGlyphs">Adipocyte snRNA-seq</text>
<text x="30.8" y="581.9" font-size="12.6" font-weight="bold" textLength="51.5" lengthAdjust="spacingAndGlyphs">(human)</text>
<circle cx="77.1" cy="635.0" r="47.8" fill="#1aa3e8"/>
<path d="M77.1 635.0L77.1 587.2A47.8 47.8 0 0 1 123.44 623.27Z" fill="#7ab648"/>
<circle cx="77.1" cy="635.0" r="47.8" fill="none" stroke="#000" stroke-width="0.9"/>
<rect x="144.9" y="589.8" width="9" height="4.4" rx="0.8" fill="#7ab648" stroke="#000" stroke-width="1"/>
<rect x="144.9" y="598.9" width="9" height="4.4" rx="0.8" fill="#1aa3e8" stroke="#000" stroke-width="1"/>
<text x="159.8" y="594.8" font-size="8" fill="#111">Purine metabolism</text>
<text x="159.8" y="603.9" font-size="8" fill="#111">Other metabolism</text>
<text x="65.5" y="705.7" font-size="7.85" font-weight="bold">Total=19</text>
<text x="238.9" y="551.6" font-size="19.3" font-weight="bold" textLength="14.6" lengthAdjust="spacingAndGlyphs" stroke="#000" stroke-width="0.35">H</text>
<rect x="392.8" y="593.6" width="70.2" height="11.2" fill="#a50d12" />
<line x1="387.8" y1="599.2" x2="392.8" y2="599.2" stroke="#000" stroke-width="0.9" />
<rect x="392.8" y="610.7" width="48.9" height="11.2" fill="#a50d12" />
<line x1="387.8" y1="616.3" x2="392.8" y2="616.3" stroke="#000" stroke-width="0.9" />
<rect x="392.8" y="628.3" width="45.3" height="11.2" fill="#a50d12" />
<line x1="387.8" y1="633.9" x2="392.8" y2="633.9" stroke="#000" stroke-width="0.9" />
<rect x="392.8" y="645.6" width="42.2" height="11.2" fill="#a50d12" />
<line x1="387.8" y1="651.2" x2="392.8" y2="651.2" stroke="#000" stroke-width="0.9" />
<text x="386.2" y="601.8" font-size="8" font-weight="bold" text-anchor="end" fill="#111">GDP metabolic process</text>
<text x="386.2" y="619.1" font-size="8" font-weight="bold" text-anchor="end" fill="#111">GMP metabolic process</text>
<text x="383.4" y="632.1" font-size="8" font-weight="bold" text-anchor="end" fill="#111">purine ribonucleoside monophosphate</text>
<text x="386.2" y="640.6" font-size="8" font-weight="bold" text-anchor="end" fill="#111">metabolic process</text>
<text x="383.4" y="648.5" font-size="8" font-weight="bold" text-anchor="end" fill="#111">purine nucleoside monophosphate</text>
<text x="386.2" y="657.5" font-size="8" font-weight="bold" text-anchor="end" fill="#111">metabolic process</text>
<text x="471.4" y="600.6" font-size="8.2" text-anchor="middle" fill="#222">6</text>
<text x="471.4" y="619.1" font-size="8.2" text-anchor="middle" fill="#222">8</text>
<text x="471.4" y="636.0" font-size="8.2" text-anchor="middle" fill="#222">10</text>
<text x="471.4" y="653.8" font-size="8.2" text-anchor="middle" fill="#222">10</text>
<line x1="392.8" y1="586.6" x2="392.8" y2="663.5" stroke="#000" stroke-width="1" />
<line x1="392.3" y1="663.0" x2="482.0" y2="663.0" stroke="#000" stroke-width="1" />
<line x1="392.8" y1="663.0" x2="392.8" y2="667.2" stroke="#000" stroke-width="1" />
<text x="392.8" y="676.0" font-size="8.2" font-weight="bold" text-anchor="middle">0</text>
<line x1="422.4" y1="663.0" x2="422.4" y2="667.2" stroke="#000" stroke-width="1" />
<text x="422.4" y="676.0" font-size="8.2" font-weight="bold" text-anchor="middle">1</text>
<line x1="451.9" y1="663.0" x2="451.9" y2="667.2" stroke="#000" stroke-width="1" />
<text x="451.9" y="676.0" font-size="8.2" font-weight="bold" text-anchor="middle">2</text>
<line x1="481.5" y1="663.0" x2="481.5" y2="667.2" stroke="#000" stroke-width="1" />
<text x="481.5" y="676.0" font-size="8.2" font-weight="bold" text-anchor="middle">3</text>
<text x="437.7" y="690.0" font-size="8.8" font-weight="bold" text-anchor="middle" fill="#1a1a1a">-log<tspan font-size="6.6" dy="1.8">10</tspan><tspan dy="-1.8">(p</tspan><tspan font-size="6.6" dy="1.8">adjust</tspan><tspan dy="-1.8">)</tspan></text>
<text x="0.2" y="744.2" font-size="19.3" font-weight="bold" stroke="#000" stroke-width="0.6">I</text>
<text x="53.3" y="741.8" font-size="11.2" font-weight="bold" textLength="58.1" lengthAdjust="spacingAndGlyphs">Adipocytes:</text>
<text x="53.3" y="756.5" font-size="11.2" font-weight="bold" textLength="59.9" lengthAdjust="spacingAndGlyphs">Intracellular</text>
<rect x="80.3" y="824.8" width="15.5" height="55.5" fill="#c9c9c9" />
<rect x="102.8" y="852.0" width="16.0" height="28.3" fill="#c9c9c9" />
<line x1="72.4" y1="774.1" x2="72.4" y2="880.8" stroke="#000" stroke-width="1" />
<line x1="71.9" y1="880.3" x2="126.4" y2="880.3" stroke="#000" stroke-width="1" />
<line x1="68.0" y1="880.3" x2="72.4" y2="880.3" stroke="#000" stroke-width="1" />
<text x="66.8" y="883.2" font-size="8.1" font-weight="bold" text-anchor="end">0</text>
<line x1="68.0" y1="845.1" x2="72.4" y2="845.1" stroke="#000" stroke-width="1" />
<text x="66.8" y="848.0" font-size="8.1" font-weight="bold" text-anchor="end">500</text>
<line x1="68.0" y1="809.9" x2="72.4" y2="809.9" stroke="#000" stroke-width="1" />
<text x="66.8" y="812.8" font-size="8.1" font-weight="bold" text-anchor="end">1000</text>
<line x1="68.0" y1="774.7" x2="72.4" y2="774.7" stroke="#000" stroke-width="1" />
<text x="66.8" y="777.6" font-size="8.1" font-weight="bold" text-anchor="end">1500</text>
<line x1="87.9" y1="880.3" x2="87.9" y2="884.5" stroke="#000" stroke-width="1" />
<line x1="110.9" y1="880.3" x2="110.9" y2="884.5" stroke="#000" stroke-width="1" />
<text x="44.8" y="828.0" font-size="8.8" font-weight="bold" text-anchor="middle" transform="rotate(-90 44.8 828.0)">ATP [nM]</text>
<line x1="87.9" y1="807.0" x2="87.9" y2="842.9" stroke="#2d9ccb" stroke-width="1.1" />
<line x1="84.1" y1="807.0" x2="91.7" y2="807.0" stroke="#2d9ccb" stroke-width="1.1" />
<line x1="84.1" y1="842.9" x2="91.7" y2="842.9" stroke="#2d9ccb" stroke-width="1.1" />
<line x1="110.9" y1="838.2" x2="110.9" y2="864.2" stroke="#b3247e" stroke-width="1.1" />
<line x1="107.1" y1="838.2" x2="114.7" y2="838.2" stroke="#b3247e" stroke-width="1.1" />
<line x1="107.1" y1="864.2" x2="114.7" y2="864.2" stroke="#b3247e" stroke-width="1.1" />
<circle cx="87.9" cy="794.2" r="2.5" fill="#2d9ccb"/>
<circle cx="87.9" cy="824.5" r="2.5" fill="#2d9ccb"/>
<circle cx="82.6" cy="836.5" r="2.5" fill="#2d9ccb"/>
<circle cx="87.9" cy="835" r="2.5" fill="#2d9ccb"/>
<circle cx="93.4" cy="835.3" r="2.5" fill="#2d9ccb"/>
<circle cx="105.7" cy="838.8" r="2.5" fill="#b3247e"/>
<circle cx="116.5" cy="843.5" r="2.5" fill="#b3247e"/>
<circle cx="105.1" cy="845.8" r="2.5" fill="#b3247e"/>
<circle cx="110.9" cy="860.1" r="2.5" fill="#b3247e"/>
<circle cx="110.9" cy="870.4" r="2.5" fill="#b3247e"/>
<text x="86.1" y="776.8" font-size="8.8" fill="#222">0.0266</text>
<path d="M87.9 787.7V781.9H110.9V787.7" fill="none" stroke="#555" stroke-width="0.9"/>
<text x="90.6" y="892.0" font-size="8.4" font-weight="bold" text-anchor="end" transform="rotate(-45 90.6 892.0)">WT</text>
<text x="113" y="891.2" font-size="8.4" font-weight="bold" text-anchor="end" transform="rotate(-45 113 891.2)">Atg7<tspan font-size="5.5" dy="-2.6">Ad</tspan></text>
<text x="168.9" y="741.6" font-size="19.3" font-weight="bold" textLength="7.8" lengthAdjust="spacingAndGlyphs" stroke="#000" stroke-width="0.45">J</text>
<text x="205.8" y="736.5" font-size="11.2" font-weight="bold" textLength="58.4" lengthAdjust="spacingAndGlyphs">Adipocytes:</text>
<text x="205.8" y="751.4" font-size="11.2" font-weight="bold" textLength="59.9" lengthAdjust="spacingAndGlyphs">Intracellular</text>
<rect x="227.2" y="872.0" width="16.0" height="5.0" fill="#c9c9c9" />
<rect x="249.9" y="851.6" width="15.8" height="25.4" fill="#c9c9c9" />
<line x1="219.9" y1="770.8" x2="219.9" y2="877.5" stroke="#000" stroke-width="1" />
<line x1="219.4" y1="877.0" x2="273.3" y2="877.0" stroke="#000" stroke-width="1" />
<line x1="215.5" y1="877.0" x2="219.9" y2="877.0" stroke="#000" stroke-width="1" />
<text x="214.2" y="879.9" font-size="8.1" font-weight="bold" text-anchor="end">0</text>
<line x1="215.5" y1="841.8" x2="219.9" y2="841.8" stroke="#000" stroke-width="1" />
<text x="214.2" y="844.7" font-size="8.1" font-weight="bold" text-anchor="end">5</text>
<line x1="215.5" y1="806.5" x2="219.9" y2="806.5" stroke="#000" stroke-width="1" />
<text x="214.2" y="809.4" font-size="8.1" font-weight="bold" text-anchor="end">10</text>
<line x1="215.5" y1="771.3" x2="219.9" y2="771.3" stroke="#000" stroke-width="1" />
<text x="214.2" y="774.2" font-size="8.1" font-weight="bold" text-anchor="end">15</text>
<line x1="235.0" y1="877.0" x2="235.0" y2="881.2" stroke="#000" stroke-width="1" />
<line x1="258.1" y1="877.0" x2="258.1" y2="881.2" stroke="#000" stroke-width="1" />
<text x="199.5" y="823.9" font-size="8.8" font-weight="bold" text-anchor="middle" textLength="118.0" lengthAdjust="spacingAndGlyphs" transform="rotate(-90 199.5 823.9)">xanthine+hypoxanthine [µM]</text>
<line x1="258.1" y1="828.2" x2="258.1" y2="875.0" stroke="#b3247e" stroke-width="1.1" />
<line x1="254.3" y1="828.2" x2="261.9" y2="828.2" stroke="#b3247e" stroke-width="1.1" />
<line x1="254.3" y1="875.0" x2="261.9" y2="875.0" stroke="#b3247e" stroke-width="1.1" />
<line x1="235.0" y1="867.7" x2="235.0" y2="876.0" stroke="#2d9ccb" stroke-width="1.1" />
<line x1="231.2" y1="867.7" x2="238.8" y2="867.7" stroke="#2d9ccb" stroke-width="1.1" />
<line x1="231.2" y1="876.0" x2="238.8" y2="876.0" stroke="#2d9ccb" stroke-width="1.1" />
<circle cx="237.6" cy="863.8" r="2.4" fill="#2d9ccb"/>
<circle cx="235.1" cy="865.7" r="2.4" fill="#2d9ccb"/>
<circle cx="236.3" cy="868.8" r="2.4" fill="#2d9ccb"/>
<circle cx="232.5" cy="870.4" r="2.4" fill="#2d9ccb"/>
<circle cx="240.2" cy="870.4" r="2.4" fill="#2d9ccb"/>
<circle cx="231.3" cy="873" r="2.4" fill="#2d9ccb"/>
<circle cx="235.9" cy="873.7" r="2.4" fill="#2d9ccb"/>
<circle cx="240.4" cy="873.4" r="2.4" fill="#2d9ccb"/>
<circle cx="229.7" cy="876" r="2.4" fill="#2d9ccb"/>
<circle cx="235.1" cy="876.4" r="2.4" fill="#2d9ccb"/>
<circle cx="240.4" cy="876.4" r="2.4" fill="#2d9ccb"/>
<circle cx="233" cy="875.5" r="2.4" fill="#2d9ccb"/>
<circle cx="258.1" cy="801.7" r="2.5" fill="#b3247e"/>
<circle cx="258.1" cy="815.7" r="2.5" fill="#b3247e"/>
<circle cx="258.1" cy="840.8" r="2.5" fill="#b3247e"/>
<circle cx="258.1" cy="855.1" r="2.5" fill="#b3247e"/>
<circle cx="252.8" cy="856.9" r="2.5" fill="#b3247e"/>
<circle cx="263.4" cy="856.9" r="2.5" fill="#b3247e"/>
<circle cx="252.8" cy="863.3" r="2.5" fill="#b3247e"/>
<circle cx="263.4" cy="864.7" r="2.5" fill="#b3247e"/>
<circle cx="258.1" cy="867" r="2.5" fill="#b3247e"/>
<circle cx="260.3" cy="872" r="2.5" fill="#b3247e"/>
<circle cx="255.7" cy="873.7" r="2.5" fill="#b3247e"/>
<circle cx="258.1" cy="874.2" r="2.5" fill="#b3247e"/>
<text x="233.0" y="784.6" font-size="8.8" fill="#222">0.0010</text>
<path d="M235 795.3V788.8H258.1V795.3" fill="none" stroke="#555" stroke-width="0.9"/>
<text x="237.4" y="887.9" font-size="8.4" font-weight="bold" text-anchor="end" transform="rotate(-45 237.4 887.9)">WT</text>
<text x="260.6" y="887.1" font-size="8.4" font-weight="bold" text-anchor="end" transform="rotate(-45 260.6 887.1)">Atg7<tspan font-size="5.5" dy="-2.6">Ad</tspan></text>
</svg>
</body></html>
